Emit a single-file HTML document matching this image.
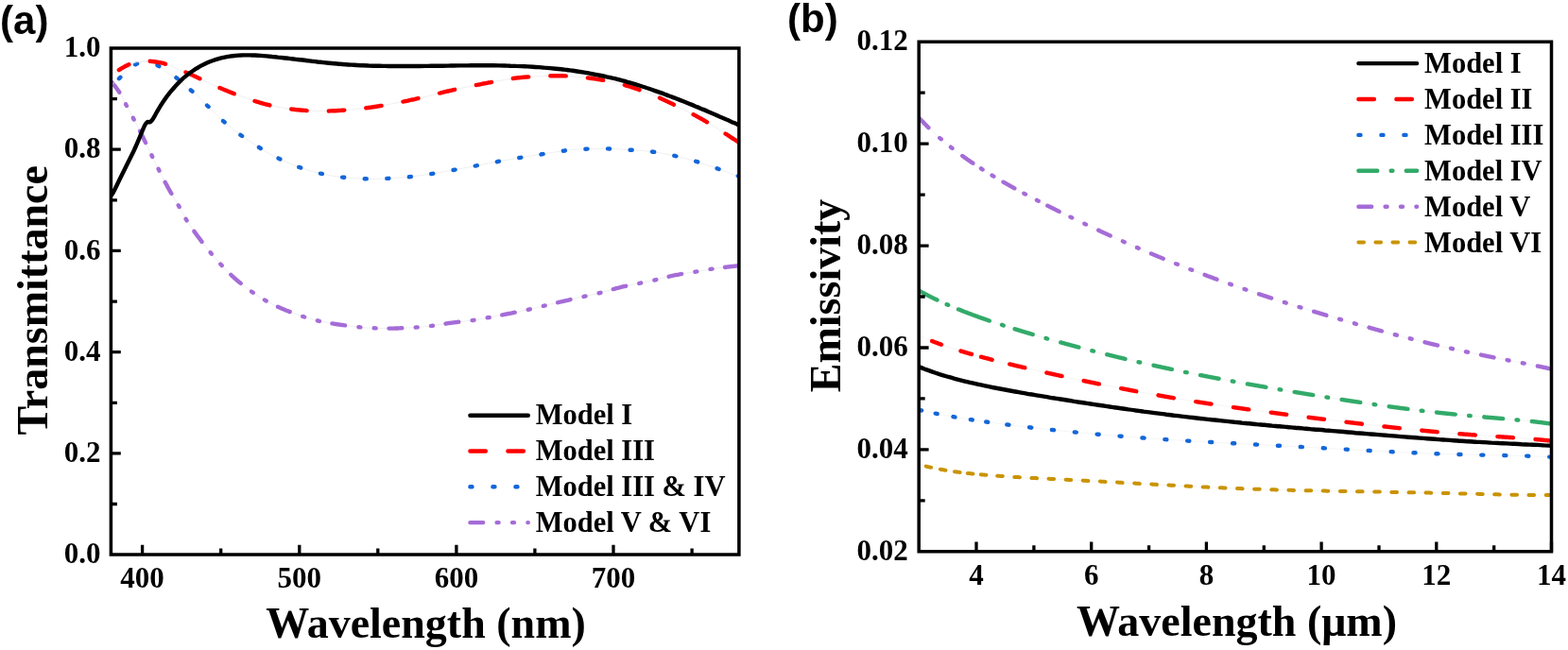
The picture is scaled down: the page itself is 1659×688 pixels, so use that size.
<!DOCTYPE html>
<html><head><meta charset="utf-8"><title>Transmittance and Emissivity</title>
<style>html,body{margin:0;padding:0;background:#fff;} body{width:1659px;height:688px;overflow:hidden;} svg{display:block}</style>
</head><body>
<svg width="1659" height="688" viewBox="0 0 1659 688">
<rect width="1659" height="688" fill="#fff"/>
<defs>
<clipPath id="ca"><rect x="117.4" y="51.0" width="664.5" height="536.1"/></clipPath>
<clipPath id="cb"><rect x="972.2" y="44.3" width="669.3" height="539.5"/></clipPath>
</defs>
<g clip-path="url(#ca)">
<path d="M115.5,85.5 C116.1,85.9 117.1,85.7 119.1,88.0 C121.1,90.3 124.8,95.2 127.3,99.2 C129.8,103.2 131.6,107.6 133.9,111.9 C136.2,116.2 138.7,120.8 141.0,125.2 C143.3,129.6 145.5,133.7 147.7,138.1 C149.9,142.5 151.7,146.1 154.3,151.5 C156.9,156.9 160.2,163.9 163.5,170.5 C166.8,177.1 170.8,185.4 173.9,191.3 C177.0,197.2 179.2,201.1 181.8,205.7 C184.4,210.3 187.0,214.2 189.6,218.8 C192.2,223.4 194.2,228.0 197.5,233.2 C200.8,238.4 204.9,244.3 209.3,250.2 C213.7,256.1 219.6,263.5 223.7,268.5 C227.8,273.5 230.0,275.9 234.1,280.3 C238.2,284.7 243.1,289.9 248.5,294.7 C253.9,299.5 261.6,305.3 266.8,309.1 C272.0,312.9 274.7,314.6 279.9,317.5 C285.1,320.4 291.6,323.8 298.2,326.6 C304.8,329.4 313.1,332.4 319.2,334.5 C325.3,336.6 328.8,337.8 334.9,339.2 C341.0,340.6 348.4,341.9 355.8,343.1 C363.2,344.3 372.8,345.5 379.4,346.2 C385.9,346.9 389.0,347.1 395.1,347.3 C401.2,347.5 408.6,347.7 416.0,347.6 C423.4,347.5 433.0,346.9 439.6,346.5 C446.2,346.1 449.3,345.8 455.6,345.0 C461.9,344.2 469.9,342.7 477.4,341.7 C484.8,340.7 493.9,339.9 500.3,339.0 C506.7,338.1 509.7,337.4 515.9,336.3 C522.1,335.2 530.4,333.6 537.7,332.1 C545.0,330.7 553.4,329.0 559.6,327.6 C565.9,326.2 569.0,325.3 575.2,323.8 C581.4,322.3 589.7,320.3 597.0,318.6 C604.3,316.9 612.6,315.0 618.8,313.6 C625.0,312.2 628.1,311.7 634.4,310.1 C640.6,308.5 649.0,305.9 656.3,304.1 C663.6,302.3 671.9,300.8 678.1,299.5 C684.3,298.2 687.6,297.6 693.7,296.2 C699.8,294.8 707.2,292.7 714.5,291.2 C721.8,289.7 731.0,288.5 737.4,287.4 C743.8,286.3 747.0,285.6 752.9,284.7 C758.8,283.8 767.5,282.8 772.7,282.2 C777.9,281.6 782.1,281.2 784.0,281.0" fill="none" stroke="#ebebeb" stroke-width="0.8"/>
<path d="M117.8,86.7 117.9,86.8 118.1,87.0 118.4,87.2 118.6,87.5 118.9,87.8 119.2,88.1 119.5,88.5 119.9,88.9 120.2,89.3 120.6,89.8 121.0,90.3 121.4,90.9 121.8,91.4 122.3,92.0 122.7,92.6 123.2,93.2 123.6,93.8 124.1,94.4 124.5,95.0 125.0,95.7 125.4,96.3 125.8,96.9 126.3,97.6 126.3,97.6M133.1,110.3 133.1,110.4 133.4,111.0 133.8,111.7 134.0,112.0M140.8,124.7 140.8,124.8 141.1,125.4 141.5,126.1 141.7,126.5M148.0,138.7 148.0,138.8 148.4,139.4 148.7,140.0 149.0,140.7 149.3,141.3 149.6,141.9 149.9,142.5 150.2,143.2 150.5,143.8 150.8,144.4 151.2,145.1 151.5,145.7 151.8,146.4 152.1,147.1 152.5,147.7 152.8,148.5 153.2,149.2 153.5,149.9 153.9,150.7 154.1,151.1M160.4,164.1 160.4,164.2 160.9,165.2 161.2,165.9M167.6,178.8 167.7,179.0 168.2,180.1 168.5,180.6M174.7,192.9 174.8,193.0 175.2,193.8 175.6,194.6 176.1,195.4 176.5,196.1 176.9,196.9 177.2,197.6 177.6,198.3 178.0,199.0 178.4,199.7 178.8,200.3 179.1,201.0 179.5,201.7 179.9,202.3 180.3,203.0 180.6,203.7 181.0,204.3 181.4,204.9M188.7,217.3 188.8,217.4 189.2,218.1 189.6,218.8 189.7,219.0M196.6,231.7 196.7,231.9 197.2,232.7 197.6,233.4M205.4,244.8 205.4,244.9 206.1,245.8 206.7,246.7 207.4,247.6 208.0,248.4 208.6,249.3 209.3,250.2 210.0,251.1 210.7,252.0 211.4,252.9 212.1,253.9 212.8,254.8 213.6,255.8 213.6,255.9M222.6,267.1 222.6,267.2 223.3,268.0 223.8,268.7M233.3,279.5 233.5,279.7 234.1,280.3 234.7,281.0M244.3,290.8 244.5,291.0 245.3,291.8 246.1,292.5 246.9,293.2 247.7,294.0 248.5,294.7 249.3,295.4 250.2,296.2 251.1,296.9 252.0,297.7 252.9,298.4 253.9,299.2 254.7,299.9M266.1,308.6 266.3,308.7 267.1,309.3 267.8,309.8M279.9,317.5 280.2,317.6 281.0,318.1 281.7,318.5M293.9,324.7 294.0,324.7 294.9,325.1 295.9,325.6 296.9,326.0 297.9,326.5 298.9,326.9 299.9,327.3 300.9,327.7 302.0,328.2 303.0,328.6 304.1,329.0 305.2,329.4 306.3,329.9 306.7,330.0M320.2,334.9 320.4,334.9 321.2,335.2 322.1,335.5 322.1,335.5M336.0,339.4 336.1,339.5 337.1,339.7 337.9,339.9M351.4,342.4 351.7,342.4 352.8,342.6 353.9,342.8 355.1,343.0 356.2,343.2 357.3,343.3 358.5,343.5 359.7,343.7 360.9,343.9 362.1,344.0 363.3,344.2 364.6,344.4 365.1,344.4M379.4,346.2 379.4,346.2 380.4,346.3 381.3,346.4 381.4,346.4M395.7,347.3 396.0,347.3 397.0,347.4 397.7,347.4M411.5,347.6 411.6,347.6 412.7,347.6 413.8,347.6 414.9,347.6 416.0,347.6 417.1,347.6 418.3,347.5 419.5,347.5 420.7,347.5 421.9,347.4 423.1,347.4 424.4,347.3 425.3,347.3M439.7,346.5 439.9,346.5 440.9,346.4 441.7,346.4M456.0,344.9 456.2,344.9 457.2,344.8 458.0,344.7M471.6,342.6 471.7,342.5 472.9,342.4 474.0,342.2 475.1,342.0 476.3,341.9 477.4,341.7 478.5,341.6 479.7,341.4 480.8,341.3 482.0,341.1 483.2,341.0 484.4,340.8 485.3,340.8M499.6,339.1 499.6,339.1 500.6,339.0 501.5,338.8M515.7,336.3 515.9,336.3 516.8,336.1 517.7,336.0M531.2,333.4 531.3,333.4 532.5,333.1 533.6,332.9 534.7,332.7 535.9,332.5 537.0,332.2 538.1,332.0 539.2,331.8 540.3,331.6 541.4,331.4 542.6,331.1 543.7,330.9 544.7,330.7M558.8,327.8 559.0,327.7 559.9,327.5 560.8,327.3M574.8,323.9 574.9,323.9 575.8,323.6 576.7,323.4M590.1,320.2 590.3,320.2 591.4,319.9 592.5,319.6 593.7,319.4 594.8,319.1 595.9,318.9 597.0,318.6 598.1,318.3 599.2,318.1 600.3,317.8 601.5,317.6 602.6,317.3 603.5,317.1M617.6,313.9 617.8,313.8 618.8,313.6 619.5,313.4M633.6,310.3 633.8,310.3 634.7,310.0 635.5,309.8M648.8,306.1 648.8,306.1 649.9,305.8 651.1,305.5 652.2,305.1 653.3,304.8 654.5,304.6 655.6,304.3 656.7,304.0 657.8,303.7 658.9,303.5 660.0,303.2 661.1,303.0 662.2,302.8M676.3,299.9 676.5,299.8 677.5,299.6 678.2,299.5M692.3,296.5 692.5,296.5 693.4,296.3 694.3,296.1M707.6,292.7 707.9,292.7 709.0,292.4 710.1,292.2 711.2,291.9 712.3,291.7 713.4,291.4 714.5,291.2 715.6,291.0 716.7,290.8 717.9,290.6 719.1,290.3 720.3,290.1 721.1,290.0M735.4,287.7 735.4,287.7 736.4,287.6 737.3,287.4M751.5,284.9 751.8,284.9 752.6,284.7 753.5,284.6M767.1,282.9 767.2,282.8 768.2,282.7 769.2,282.6 770.1,282.5 771.0,282.4 771.9,282.3 772.7,282.2 773.5,282.1 774.2,282.0 775.0,281.9 775.7,281.9 776.4,281.8 777.1,281.7 777.7,281.6 778.4,281.6 779.0,281.5 779.6,281.4 780.2,281.4 780.7,281.3 780.9,281.3" fill="none" stroke="#a56cd7" stroke-width="4.4" stroke-linecap="round" stroke-linejoin="round"/>
<path d="M115.5,92.0 C115.8,91.8 115.6,92.1 117.5,90.5 C119.4,88.9 123.9,85.2 126.8,82.4 C129.7,79.6 131.9,75.9 134.8,73.5 C137.7,71.1 140.8,69.3 144.1,67.9 C147.4,66.5 150.6,65.0 154.5,65.3 C158.4,65.6 163.9,67.8 167.6,69.7 C171.3,71.6 173.5,74.4 176.8,76.6 C180.1,78.8 184.2,80.5 187.5,83.0 C190.8,85.5 193.6,89.4 196.5,91.9 C199.4,94.4 201.1,94.5 205.2,98.1 C209.3,101.7 215.8,108.4 221.3,113.7 C226.9,119.0 232.8,125.2 238.5,130.2 C244.2,135.2 249.8,139.5 255.8,143.8 C261.8,148.1 269.9,153.2 274.4,156.2 C278.9,159.1 279.9,159.7 283.0,161.5 C286.1,163.3 287.8,164.4 292.9,166.8 C298.0,169.2 306.7,173.3 313.9,176.0 C321.1,178.7 328.7,181.1 336.1,182.9 C343.5,184.8 350.8,186.1 358.4,187.1 C366.0,188.1 374.0,188.8 381.8,189.1 C389.6,189.4 397.5,189.3 405.3,189.1 C413.1,188.8 421.4,188.3 428.8,187.6 C436.2,186.9 441.9,186.2 450.0,185.0 C458.1,183.8 468.8,181.9 477.2,180.4 C485.6,178.9 492.9,177.5 500.7,176.0 C508.5,174.5 516.3,172.9 524.1,171.5 C531.9,170.1 539.8,168.6 547.6,167.3 C555.4,166.0 563.3,164.8 571.1,163.6 C578.9,162.4 587.8,160.8 594.6,159.9 C601.4,159.0 604.1,158.4 612.0,158.0 C619.9,157.6 632.6,157.3 641.7,157.4 C650.8,157.5 658.4,158.2 666.4,158.7 C674.4,159.2 682.0,159.6 689.8,160.6 C697.6,161.6 705.5,163.1 713.3,164.8 C721.1,166.5 729.2,168.7 736.8,171.0 C744.4,173.3 751.1,175.7 759.0,178.4 C766.9,181.2 779.8,186.0 784.0,187.5" fill="none" stroke="#ebebeb" stroke-width="0.8"/>
<path d="M201.8,95.4 201.9,95.5 202.4,95.8 202.8,96.2 203.3,96.6 203.5,96.7M219.0,111.5 219.3,111.8 220.2,112.6 220.6,113.0M236.0,128.0 236.2,128.1 237.1,128.9 237.6,129.4M254.4,142.8 254.6,142.9 255.5,143.6 256.1,144.0M274.0,155.9 274.2,156.1 274.8,156.5 275.5,156.9 275.8,157.1M294.5,167.6 294.5,167.6 295.4,168.0 296.4,168.4 296.4,168.5M316.2,176.9 316.4,176.9 317.5,177.3 318.2,177.6M338.9,183.6 339.1,183.6 340.2,183.9 340.9,184.0M362.1,187.6 362.2,187.6 363.4,187.7 364.2,187.8M385.7,189.2 385.7,189.2 386.9,189.3 387.8,189.3M409.3,188.9 409.6,188.9 410.8,188.9 411.4,188.8M432.8,187.2 433.1,187.2 434.1,187.1 434.9,187.0M456.2,184.0 456.5,184.0 457.8,183.8 458.3,183.7M479.5,180.0 479.7,180.0 480.9,179.7 481.6,179.6M502.7,175.6 503.0,175.6 504.2,175.3 504.8,175.2M525.9,171.2 526.1,171.1 527.2,170.9 528.0,170.8M549.2,167.0 549.6,167.0 550.7,166.8 551.3,166.7M572.5,163.4 572.7,163.3 573.9,163.2 574.6,163.0M595.9,159.7 595.9,159.7 596.8,159.6 597.7,159.5 597.9,159.4M619.4,157.7 619.7,157.7 621.2,157.6 621.5,157.6M643.0,157.4 643.0,157.4 644.4,157.5 645.1,157.5M666.6,158.7 666.8,158.7 668.0,158.8 668.7,158.8M690.1,160.6 690.2,160.7 691.4,160.8 692.2,160.9M713.3,164.8 713.7,164.9 714.9,165.2 715.4,165.3M736.2,170.8 736.4,170.9 737.6,171.2 738.2,171.4M758.6,178.3 758.6,178.3 759.8,178.7 760.6,179.0M780.8,186.3 780.9,186.4 781.9,186.7 782.8,187.1M125.9,83.2 126.0,83.1 126.5,82.7 126.9,82.3 127.4,81.8 127.4,81.8M143.1,68.3 143.3,68.3 143.8,68.0 144.3,67.8 144.8,67.6 145.1,67.5M166.5,69.1 166.6,69.2 167.2,69.5 167.8,69.8 168.3,70.1 168.3,70.1M186.4,82.2 186.5,82.3 187.0,82.6 187.5,83.0 188.0,83.4 188.1,83.5" fill="none" stroke="#1366d9" stroke-width="4.4" stroke-linecap="round" stroke-linejoin="round"/>
<path d="M115.5,81.0 C115.8,80.8 116.2,80.4 117.5,79.5 C118.8,78.6 121.5,76.9 123.6,75.6 C125.6,74.3 127.5,73.0 129.8,71.7 C132.1,70.4 134.3,69.1 137.2,68.0 C140.1,66.9 144.4,65.9 147.1,65.3 C149.8,64.7 151.3,64.7 153.5,64.6 C155.7,64.5 157.6,64.7 160.0,64.9 C162.4,65.1 165.3,65.5 167.8,66.0 C170.3,66.5 171.4,66.4 175.0,67.7 C178.6,69.0 184.7,71.6 189.5,73.6 C194.3,75.6 198.5,77.2 203.8,79.6 C209.1,82.0 215.4,85.4 221.5,88.2 C227.6,91.0 234.3,93.8 240.5,96.3 C246.7,98.8 252.3,101.0 258.5,103.2 C264.6,105.4 271.1,107.6 277.4,109.3 C283.6,111.0 289.6,112.4 296.0,113.6 C302.4,114.8 309.0,115.6 315.5,116.3 C322.0,117.0 328.4,117.3 335.0,117.5 C341.6,117.7 348.2,117.5 354.8,117.2 C361.4,116.9 367.9,116.4 374.5,115.7 C381.1,115.0 388.0,114.3 394.7,113.3 C401.4,112.3 407.9,111.1 414.5,109.9 C421.1,108.7 427.6,107.4 434.1,106.0 C440.6,104.6 447.1,103.0 453.5,101.5 C459.9,100.0 466.2,98.3 472.6,96.8 C479.0,95.3 485.6,93.8 492.0,92.4 C498.4,91.0 505.0,89.8 511.3,88.6 C517.6,87.4 523.9,86.1 530.0,85.1 C536.1,84.0 541.7,83.0 548.2,82.3 C554.7,81.6 561.9,81.1 569.0,80.8 C576.1,80.5 583.7,80.1 590.6,80.2 C597.5,80.3 603.9,80.6 610.5,81.2 C617.1,81.8 623.9,82.6 630.5,83.6 C637.1,84.6 643.6,85.8 650.0,87.3 C656.4,88.8 662.7,90.5 669.0,92.5 C675.3,94.5 681.8,97.0 688.0,99.5 C694.2,102.0 700.2,104.7 706.2,107.5 C712.2,110.3 718.0,113.3 724.0,116.3 C730.0,119.3 736.2,122.5 741.9,125.7 C747.6,128.9 752.6,132.2 758.0,135.5 C763.4,138.8 769.7,142.9 774.0,145.7 C778.3,148.4 782.3,150.9 784.0,152.0" fill="none" stroke="#ebebeb" stroke-width="0.8"/>
<path d="M158.7,64.8 158.8,64.8 159.2,64.8 159.5,64.9 159.9,64.9 160.2,64.9 160.6,65.0 161.0,65.0 161.4,65.0 161.7,65.1 162.1,65.1 162.5,65.2 162.9,65.2 163.3,65.3 163.7,65.3 164.1,65.4 164.5,65.5 164.9,65.5 165.3,65.6 165.7,65.6 166.1,65.7 166.5,65.8 166.9,65.8 167.3,65.9 167.7,66.0 168.0,66.0 168.4,66.1 168.7,66.2 169.1,66.2 169.4,66.3 169.7,66.3 170.0,66.4 170.3,66.4 170.6,66.5 170.9,66.5 171.2,66.6 171.5,66.7 171.8,66.7 172.2,66.8 172.6,66.9 173.0,67.0 173.4,67.2 173.8,67.3 174.3,67.5 174.8,67.6 175.0,67.7M196.4,76.4 196.5,76.4 197.1,76.7 197.8,77.0 198.6,77.3 199.3,77.6 200.0,77.9 200.7,78.2 201.5,78.6 202.2,78.9 203.0,79.2 203.8,79.6 204.6,80.0 205.4,80.4 206.3,80.8 207.1,81.2 208.0,81.6 208.8,82.0 209.7,82.4 210.6,82.9 211.4,83.3M232.4,93.0 232.6,93.0 233.6,93.4 234.5,93.8 235.5,94.2 236.4,94.6 237.4,95.0 238.3,95.4 239.3,95.8 240.2,96.2 241.1,96.5 242.0,96.9 242.9,97.3 243.8,97.6 244.7,98.0 245.6,98.4 246.5,98.7 247.4,99.1 247.7,99.2M269.5,106.9 269.8,107.0 270.8,107.3 271.7,107.6 272.7,107.9 273.6,108.2 274.6,108.5 275.5,108.8 276.5,109.0 277.4,109.3 278.3,109.6 279.3,109.8 280.2,110.1 281.1,110.3 282.0,110.5 283.0,110.8 283.9,111.0 284.8,111.2 285.4,111.4M308.2,115.5 308.3,115.5 309.3,115.6 310.3,115.7 311.3,115.8 312.2,116.0 313.2,116.1 314.2,116.2 315.2,116.3 316.1,116.4 317.1,116.5 318.1,116.5 319.1,116.6 320.0,116.7 321.0,116.8 322.0,116.9 323.0,116.9 323.9,117.0 324.6,117.1M347.8,117.5 347.9,117.5 348.9,117.4 349.9,117.4 350.8,117.4 351.8,117.3 352.8,117.3 353.8,117.2 354.8,117.2 355.8,117.2 356.8,117.1 357.8,117.0 358.7,117.0 359.7,116.9 360.7,116.9 361.7,116.8 362.7,116.7 363.6,116.7 364.3,116.6M387.3,114.3 387.6,114.2 388.7,114.1 389.7,114.0 390.7,113.9 391.7,113.7 392.7,113.6 393.7,113.4 394.7,113.3 395.7,113.2 396.7,113.0 397.7,112.8 398.7,112.7 399.7,112.5 400.7,112.4 401.7,112.2 402.7,112.0 403.6,111.9M426.4,107.6 426.6,107.6 427.6,107.4 428.6,107.2 429.5,107.0 430.5,106.8 431.5,106.6 432.5,106.3 433.4,106.1 434.4,105.9 435.4,105.7 436.4,105.5 437.3,105.3 438.3,105.1 439.3,104.8 440.3,104.6 441.2,104.4 442.2,104.2 442.5,104.1M465.0,98.6 465.3,98.6 466.2,98.4 467.2,98.1 468.1,97.9 469.1,97.6 470.0,97.4 471.0,97.2 472.0,97.0 472.9,96.7 473.9,96.5 474.9,96.3 475.8,96.0 476.8,95.8 477.8,95.6 478.7,95.4 479.7,95.1 480.7,94.9 481.1,94.8M503.8,90.0 503.9,90.0 504.9,89.8 505.9,89.6 506.8,89.5 507.8,89.3 508.8,89.1 509.7,88.9 510.7,88.7 511.6,88.5 512.6,88.4 513.5,88.2 514.5,88.0 515.4,87.8 516.3,87.6 517.3,87.4 518.2,87.3 519.2,87.1 520.0,86.9M542.8,83.0 542.9,83.0 543.8,82.8 544.7,82.7 545.6,82.6 546.6,82.5 547.6,82.4 548.5,82.3 549.5,82.2 550.5,82.1 551.5,82.0 552.5,81.9 553.5,81.8 554.6,81.7 555.6,81.6 556.6,81.5 557.7,81.5 558.7,81.4 559.2,81.4M582.3,80.3 582.4,80.3 583.5,80.2 584.6,80.2 585.7,80.2 586.7,80.2 587.8,80.2 588.9,80.2 589.9,80.2 590.9,80.2 592.0,80.2 593.0,80.2 594.0,80.3 595.0,80.3 596.0,80.3 597.0,80.4 598.0,80.4 598.8,80.4M621.9,82.4 622.2,82.4 623.2,82.6 624.2,82.7 625.2,82.8 626.2,83.0 627.2,83.1 628.2,83.3 629.2,83.4 630.2,83.5 631.2,83.7 632.1,83.9 633.1,84.0 634.1,84.2 635.1,84.3 636.1,84.5 637.1,84.7 638.0,84.9 638.2,84.9M660.8,90.0 660.8,90.0 661.7,90.3 662.7,90.6 663.6,90.9 664.6,91.1 665.5,91.4 666.5,91.7 667.4,92.0 668.4,92.3 669.3,92.6 670.3,92.9 671.2,93.2 672.2,93.6 673.1,93.9 674.1,94.2 675.0,94.5 676.0,94.9 676.5,95.1M698.0,103.7 698.1,103.8 699.0,104.2 699.9,104.6 700.8,105.0 701.7,105.4 702.6,105.8 703.5,106.2 704.4,106.7 705.3,107.1 706.2,107.5 707.1,107.9 708.0,108.3 708.9,108.8 709.8,109.2 710.7,109.6 711.6,110.1 712.5,110.5 712.9,110.7M733.6,121.2 733.7,121.3 734.6,121.7 735.5,122.2 736.4,122.7 737.3,123.1 738.1,123.6 739.0,124.1 739.9,124.6 740.8,125.1 741.6,125.5 742.5,126.0 743.3,126.5 744.1,127.0 745.0,127.5 745.8,128.0 746.6,128.4 747.4,128.9 748.0,129.3M767.6,141.6 767.8,141.7 768.6,142.2 769.4,142.7 770.2,143.2 770.9,143.7 771.7,144.2 772.4,144.7 773.1,145.1 773.8,145.6 774.4,146.0 775.1,146.4 775.7,146.8 776.3,147.2 777.0,147.6 777.6,147.9 778.1,148.3 778.7,148.7 779.3,149.0 779.8,149.4 780.3,149.7 780.8,150.0 781.3,150.3 781.5,150.4M125.9,74.1 125.9,74.1 126.2,73.9 126.5,73.7 126.8,73.5 127.1,73.3 127.4,73.1 127.7,72.9 128.1,72.7 128.4,72.5 128.7,72.3 129.0,72.1 129.4,72.0 129.7,71.8 130.0,71.6 130.4,71.4 130.7,71.2 131.0,71.0 131.4,70.8 131.7,70.6 132.1,70.4 132.4,70.2 132.8,70.0 133.1,69.8 133.5,69.6 133.9,69.5 134.3,69.3 134.6,69.1 135.0,68.9 135.4,68.7 135.8,68.6 136.2,68.4 136.4,68.3" fill="none" stroke="#ff0000" stroke-width="4.4" stroke-linecap="round" stroke-linejoin="round"/>
<path d="M115.5,209.0 C116.1,208.3 117.1,208.4 119.1,205.0 C121.1,201.6 124.0,195.2 127.4,188.3 C130.8,181.4 137.1,168.9 139.7,163.6 C142.3,158.3 141.6,159.7 143.0,156.5 C144.4,153.3 146.7,148.0 148.1,144.6 C149.5,141.2 150.7,138.0 151.7,135.8 C152.7,133.6 153.2,132.5 153.9,131.4 C154.6,130.3 155.4,129.4 156.1,129.1 C156.8,128.8 157.6,129.5 158.3,129.3 C159.0,129.1 159.7,128.6 160.4,127.8 C161.1,127.0 161.6,126.3 162.6,124.6 C163.6,122.9 164.8,120.5 166.5,117.6 C168.2,114.7 170.8,110.4 173.1,107.1 C175.3,103.8 177.8,100.4 180.0,97.7 C182.2,95.0 184.0,92.9 186.0,90.7 C188.0,88.5 190.0,86.5 192.0,84.6 C194.0,82.7 196.0,81.0 198.0,79.4 C200.0,77.8 202.0,76.3 204.0,75.0 C206.0,73.6 208.0,72.3 210.0,71.2 C212.0,70.0 214.0,68.9 216.0,68.0 C218.0,67.0 220.0,66.1 222.0,65.3 C224.0,64.5 226.0,63.7 228.0,63.1 C230.0,62.5 232.0,61.9 234.0,61.4 C236.0,60.9 238.0,60.5 240.0,60.1 C242.0,59.7 244.0,59.4 246.0,59.2 C248.0,59.0 250.0,58.8 252.0,58.6 C254.0,58.5 256.0,58.4 258.0,58.4 C260.0,58.3 262.0,58.3 264.0,58.4 C266.0,58.4 268.0,58.5 270.0,58.5 C272.0,58.6 274.0,58.8 276.0,58.9 C278.0,59.0 280.0,59.2 282.0,59.4 C284.0,59.6 286.0,59.8 288.0,60.0 C290.0,60.1 292.0,60.3 294.0,60.6 C296.0,60.8 298.0,61.0 300.0,61.2 C302.0,61.4 304.0,61.7 306.0,61.9 C308.0,62.1 310.0,62.4 312.0,62.6 C314.0,62.8 316.0,63.1 318.0,63.3 C320.0,63.6 322.0,63.8 324.0,64.0 C326.0,64.3 328.0,64.5 330.0,64.8 C332.0,65.0 334.0,65.2 336.0,65.5 C338.0,65.7 340.0,65.9 342.0,66.1 C344.0,66.3 346.0,66.5 348.0,66.7 C350.0,66.9 352.0,67.1 354.0,67.3 C356.0,67.5 358.0,67.6 360.0,67.8 C362.0,68.0 364.0,68.1 366.0,68.2 C368.0,68.4 370.0,68.5 372.0,68.6 C374.0,68.7 376.0,68.9 378.0,69.0 C380.0,69.1 382.0,69.2 384.0,69.2 C386.0,69.3 388.0,69.4 390.0,69.5 C392.0,69.5 394.0,69.6 396.0,69.7 C398.0,69.7 400.0,69.8 402.0,69.8 C404.0,69.8 406.0,69.9 408.0,69.9 C410.0,69.9 412.0,70.0 414.0,70.0 C416.0,70.0 418.0,70.0 420.0,70.0 C422.0,70.0 424.0,70.0 426.0,70.0 C428.0,70.0 430.0,70.0 432.0,70.0 C434.0,70.0 436.0,70.0 438.0,70.0 C440.0,70.0 442.0,70.0 444.0,70.0 C446.0,69.9 448.0,69.9 450.0,69.9 C452.0,69.9 454.0,69.8 456.0,69.8 C458.0,69.8 460.0,69.8 462.0,69.7 C464.0,69.7 466.0,69.7 468.0,69.7 C470.0,69.6 472.0,69.6 474.0,69.6 C476.0,69.6 478.0,69.5 480.0,69.5 C482.0,69.5 484.0,69.5 486.0,69.4 C488.0,69.4 490.0,69.4 492.0,69.4 C494.0,69.4 496.0,69.3 498.0,69.3 C500.0,69.3 502.0,69.3 504.0,69.3 C506.0,69.3 508.0,69.3 510.0,69.3 C512.0,69.3 514.0,69.3 516.0,69.3 C518.0,69.3 520.0,69.3 522.0,69.3 C524.0,69.4 526.0,69.4 528.0,69.4 C530.0,69.5 532.0,69.5 534.0,69.5 C536.0,69.6 538.0,69.6 540.0,69.7 C542.0,69.7 544.0,69.8 546.0,69.9 C548.0,69.9 550.0,70.0 552.0,70.1 C554.0,70.2 556.0,70.3 558.0,70.4 C560.0,70.5 562.0,70.6 564.0,70.7 C566.0,70.9 568.0,71.0 570.0,71.1 C572.0,71.3 574.0,71.4 576.0,71.6 C578.0,71.7 580.0,71.9 582.0,72.1 C584.0,72.3 586.0,72.5 588.0,72.7 C590.0,72.9 592.0,73.1 594.0,73.3 C596.0,73.5 598.0,73.8 600.0,74.0 C602.0,74.3 604.0,74.5 606.0,74.8 C608.0,75.1 610.0,75.4 612.0,75.7 C614.0,76.0 616.0,76.3 618.0,76.6 C620.0,77.0 622.0,77.3 624.0,77.7 C626.0,78.0 628.0,78.4 630.0,78.8 C632.0,79.2 634.0,79.6 636.0,80.0 C638.0,80.4 640.0,80.8 642.0,81.3 C644.0,81.7 646.0,82.2 648.0,82.7 C650.0,83.1 652.0,83.6 654.0,84.1 C656.0,84.6 658.0,85.2 660.0,85.7 C662.0,86.3 664.0,86.8 666.0,87.4 C668.0,88.0 670.0,88.6 672.0,89.2 C674.0,89.8 676.0,90.4 678.0,91.0 C680.0,91.7 682.0,92.3 684.0,93.0 C686.0,93.6 688.0,94.3 690.0,95.0 C692.0,95.7 694.0,96.4 696.0,97.1 C698.0,97.8 700.0,98.5 702.0,99.2 C704.0,100.0 706.0,100.7 708.0,101.5 C710.0,102.2 712.0,103.0 714.0,103.7 C716.0,104.5 718.0,105.3 720.0,106.1 C722.0,106.9 724.0,107.7 726.0,108.5 C728.0,109.3 730.0,110.1 732.0,110.9 C734.0,111.7 736.0,112.6 738.0,113.4 C740.0,114.2 742.0,115.1 744.0,115.9 C746.0,116.7 748.0,117.6 750.0,118.5 C752.0,119.3 754.0,120.2 756.0,121.0 C758.0,121.9 760.0,122.8 762.0,123.7 C764.0,124.5 766.0,125.4 768.0,126.3 C770.0,127.1 772.0,128.0 774.0,128.9 C776.0,129.8 778.3,130.8 780.0,131.6 C781.7,132.3 783.3,133.0 784.0,133.3" fill="none" stroke="#000" stroke-width="4.4" stroke-linecap="round" stroke-linejoin="round"/>

</g>
<g clip-path="url(#cb)">
<path d="M972.2,491.7 C973.5,492.0 977.5,493.1 980.2,493.7 C982.9,494.4 985.5,494.9 988.2,495.5 C990.9,496.0 993.5,496.5 996.2,497.0 C998.9,497.5 1001.5,497.9 1004.2,498.3 C1006.9,498.7 1009.5,499.1 1012.2,499.5 C1014.9,499.9 1017.5,500.2 1020.2,500.5 C1022.9,500.8 1025.5,501.1 1028.2,501.4 C1030.9,501.7 1033.5,501.9 1036.2,502.2 C1038.9,502.4 1041.5,502.6 1044.2,502.9 C1046.9,503.1 1049.5,503.3 1052.2,503.5 C1054.9,503.7 1057.5,503.9 1060.2,504.0 C1062.9,504.2 1065.5,504.4 1068.2,504.6 C1070.9,504.7 1073.5,504.9 1076.2,505.0 C1078.9,505.2 1081.5,505.3 1084.2,505.5 C1086.9,505.6 1089.5,505.8 1092.2,505.9 C1094.9,506.1 1097.5,506.2 1100.2,506.3 C1102.9,506.5 1105.5,506.6 1108.2,506.7 C1110.9,506.9 1113.5,507.0 1116.2,507.1 C1118.9,507.3 1121.5,507.4 1124.2,507.5 C1126.9,507.7 1129.5,507.8 1132.2,507.9 C1134.9,508.1 1137.5,508.2 1140.2,508.4 C1142.9,508.5 1145.5,508.6 1148.2,508.8 C1150.9,508.9 1153.5,509.1 1156.2,509.2 C1158.9,509.3 1161.5,509.5 1164.2,509.6 C1166.9,509.8 1169.5,509.9 1172.2,510.0 C1174.9,510.2 1177.5,510.3 1180.2,510.5 C1182.9,510.6 1185.5,510.8 1188.2,510.9 C1190.9,511.1 1193.5,511.2 1196.2,511.4 C1198.9,511.5 1201.5,511.6 1204.2,511.8 C1206.9,511.9 1209.5,512.1 1212.2,512.2 C1214.9,512.4 1217.5,512.5 1220.2,512.7 C1222.9,512.8 1225.5,513.0 1228.2,513.1 C1230.9,513.2 1233.5,513.4 1236.2,513.5 C1238.9,513.7 1241.5,513.8 1244.2,514.0 C1246.9,514.1 1249.5,514.2 1252.2,514.4 C1254.9,514.5 1257.5,514.6 1260.2,514.8 C1262.9,514.9 1265.5,515.0 1268.2,515.2 C1270.9,515.3 1273.5,515.4 1276.2,515.6 C1278.9,515.7 1281.5,515.8 1284.2,515.9 C1286.9,516.0 1289.5,516.2 1292.2,516.3 C1294.9,516.4 1297.5,516.5 1300.2,516.6 C1302.9,516.7 1305.5,516.8 1308.2,517.0 C1310.9,517.1 1313.5,517.1 1316.2,517.2 C1318.9,517.4 1321.5,517.5 1324.2,517.5 C1326.9,517.6 1329.5,517.7 1332.2,517.8 C1334.9,517.9 1337.5,518.0 1340.2,518.1 C1342.9,518.2 1345.5,518.3 1348.2,518.3 C1350.9,518.4 1353.5,518.5 1356.2,518.6 C1358.9,518.6 1361.5,518.7 1364.2,518.8 C1366.9,518.9 1369.5,518.9 1372.2,519.0 C1374.9,519.0 1377.5,519.1 1380.2,519.2 C1382.9,519.2 1385.5,519.3 1388.2,519.3 C1390.9,519.4 1393.5,519.5 1396.2,519.5 C1398.9,519.6 1401.5,519.6 1404.2,519.7 C1406.9,519.7 1409.5,519.8 1412.2,519.8 C1414.9,519.9 1417.5,519.9 1420.2,520.0 C1422.9,520.0 1425.5,520.1 1428.2,520.1 C1430.9,520.1 1433.5,520.2 1436.2,520.2 C1438.9,520.3 1441.5,520.3 1444.2,520.4 C1446.9,520.4 1449.5,520.5 1452.2,520.5 C1454.9,520.6 1457.5,520.6 1460.2,520.6 C1462.9,520.7 1465.5,520.7 1468.2,520.8 C1470.9,520.8 1473.5,520.9 1476.2,520.9 C1478.9,521.0 1481.5,521.0 1484.2,521.1 C1486.9,521.1 1489.5,521.2 1492.2,521.2 C1494.9,521.3 1497.5,521.3 1500.2,521.4 C1502.9,521.4 1505.5,521.5 1508.2,521.5 C1510.9,521.6 1513.5,521.7 1516.2,521.7 C1518.9,521.8 1521.5,521.8 1524.2,521.9 C1526.9,522.0 1529.5,522.0 1532.2,522.1 C1534.9,522.1 1537.5,522.2 1540.2,522.3 C1542.9,522.3 1545.5,522.4 1548.2,522.5 C1550.9,522.5 1553.5,522.6 1556.2,522.6 C1558.9,522.7 1561.5,522.8 1564.2,522.9 C1566.9,522.9 1569.5,523.0 1572.2,523.0 C1574.9,523.1 1577.5,523.2 1580.2,523.2 C1582.9,523.3 1585.5,523.4 1588.2,523.4 C1590.9,523.5 1593.5,523.5 1596.2,523.6 C1598.9,523.7 1601.5,523.7 1604.2,523.8 C1606.9,523.8 1609.5,523.8 1612.2,523.9 C1614.9,523.9 1617.5,524.0 1620.2,524.0 C1622.9,524.0 1625.5,524.1 1628.2,524.1 C1630.9,524.1 1633.5,524.1 1636.2,524.1 C1638.9,524.1 1642.9,524.1 1644.2,524.1" fill="none" stroke="#f3f3f3" stroke-width="0.8"/>
<path d="M1073.3,504.9 1073.3,504.9 1073.7,504.9 1074.1,504.9 1074.5,504.9 1074.9,505.0 1075.3,505.0 1075.7,505.0 1076.1,505.0 1076.5,505.0 1076.9,505.1 1077.3,505.1 1077.7,505.1 1078.1,505.1 1078.5,505.2 1078.9,505.2M1091.4,505.9 1091.4,505.9 1091.8,505.9 1092.2,505.9 1092.6,505.9 1093.0,506.0 1093.4,506.0 1093.8,506.0 1094.2,506.0 1094.6,506.0 1095.0,506.1 1095.4,506.1 1095.8,506.1 1096.2,506.1 1096.6,506.1 1097.0,506.2M1109.5,506.8 1109.5,506.8 1109.9,506.8 1110.3,506.8 1110.7,506.9 1111.1,506.9 1111.5,506.9 1111.9,506.9 1112.3,506.9 1112.7,507.0 1113.1,507.0 1113.5,507.0 1113.9,507.0 1114.3,507.0 1114.7,507.1 1115.1,507.1M1127.7,507.7 1127.7,507.7 1128.1,507.7 1128.5,507.8 1128.9,507.8 1129.3,507.8 1129.7,507.8 1130.1,507.8 1130.5,507.9 1130.9,507.9 1131.3,507.9 1131.7,507.9 1132.1,507.9 1132.5,508.0 1132.9,508.0 1133.2,508.0M1145.8,508.6 1145.8,508.6 1146.2,508.7 1146.6,508.7 1147.0,508.7 1147.4,508.7 1147.8,508.7 1148.2,508.8 1148.6,508.8 1149.0,508.8 1149.4,508.8 1149.8,508.9 1150.2,508.9 1150.6,508.9 1151.0,508.9 1151.4,508.9M1163.9,509.6 1163.9,509.6 1164.3,509.6 1164.7,509.6 1165.1,509.7 1165.5,509.7 1165.9,509.7 1166.3,509.7 1166.7,509.7 1167.1,509.8 1167.5,509.8 1167.9,509.8 1168.3,509.8 1168.7,509.9 1169.1,509.9 1169.5,509.9M1182.0,510.6 1182.1,510.6 1182.5,510.6 1182.9,510.6 1183.3,510.6 1183.7,510.7 1184.1,510.7 1184.5,510.7 1184.9,510.7 1185.3,510.7 1185.7,510.8 1186.1,510.8 1186.5,510.8 1186.9,510.8 1187.3,510.9 1187.6,510.9M1200.2,511.6 1200.2,511.6 1200.6,511.6 1201.0,511.6 1201.4,511.6 1201.8,511.7 1202.2,511.7 1202.6,511.7 1203.0,511.7 1203.4,511.7 1203.8,511.8 1204.2,511.8 1204.6,511.8 1205.0,511.8 1205.4,511.9 1205.8,511.9M1218.3,512.6 1218.3,512.6 1218.7,512.6 1219.1,512.6 1219.5,512.6 1219.9,512.7 1220.3,512.7 1220.7,512.7 1221.1,512.7 1221.5,512.7 1221.9,512.8 1222.3,512.8 1222.7,512.8 1223.1,512.8 1223.5,512.8 1223.9,512.9M1236.4,513.5 1236.5,513.5 1236.9,513.6 1237.3,513.6 1237.7,513.6 1238.1,513.6 1238.5,513.7 1238.9,513.7 1239.3,513.7 1239.7,513.7 1240.1,513.7 1240.5,513.8 1240.9,513.8 1241.3,513.8 1241.7,513.8 1242.0,513.8M1254.6,514.5 1254.6,514.5 1255.0,514.5 1255.4,514.5 1255.8,514.6 1256.2,514.6 1256.6,514.6 1257.0,514.6 1257.4,514.6 1257.8,514.7 1258.2,514.7 1258.6,514.7 1259.0,514.7 1259.4,514.7 1259.8,514.8 1260.2,514.8M1272.7,515.4 1272.7,515.4 1273.1,515.4 1273.5,515.4 1273.9,515.5 1274.3,515.5 1274.7,515.5 1275.1,515.5 1275.5,515.5 1275.9,515.5 1276.3,515.6 1276.7,515.6 1277.1,515.6 1277.5,515.6 1277.9,515.6 1278.3,515.7M1290.8,516.2 1290.9,516.2 1291.3,516.2 1291.7,516.3 1292.1,516.3 1292.5,516.3 1292.9,516.3 1293.3,516.3 1293.7,516.3 1294.1,516.4 1294.5,516.4 1294.9,516.4 1295.3,516.4 1295.7,516.4 1296.1,516.4 1296.4,516.5M1309.0,517.0 1309.0,517.0 1309.4,517.0 1309.8,517.0 1310.2,517.0 1310.6,517.0 1311.0,517.1 1311.4,517.1 1311.8,517.1 1312.2,517.1 1312.6,517.1 1313.0,517.1 1313.4,517.1 1313.8,517.2 1314.2,517.2 1314.6,517.2M1327.1,517.7 1327.1,517.7 1327.5,517.7 1327.9,517.7 1328.3,517.7 1328.7,517.7 1329.1,517.7 1329.5,517.7 1329.9,517.7 1330.3,517.8 1330.7,517.8 1331.1,517.8 1331.5,517.8 1331.9,517.8 1332.3,517.8 1332.7,517.8M1345.3,518.2 1345.3,518.2 1345.7,518.3 1346.1,518.3 1346.5,518.3 1346.9,518.3 1347.3,518.3 1347.7,518.3 1348.1,518.3 1348.5,518.3 1348.9,518.3 1349.3,518.4 1349.7,518.4 1350.1,518.4 1350.5,518.4 1350.9,518.4M1363.4,518.8 1363.5,518.8 1363.9,518.8 1364.3,518.8 1364.7,518.8 1365.1,518.8 1365.5,518.8 1365.9,518.8 1366.3,518.8 1366.7,518.8 1367.1,518.9 1367.5,518.9 1367.9,518.9 1368.3,518.9 1368.7,518.9 1369.0,518.9M1381.6,519.2 1381.7,519.2 1382.1,519.2 1382.5,519.2 1382.9,519.2 1383.3,519.2 1383.7,519.2 1384.1,519.3 1384.5,519.3 1384.9,519.3 1385.3,519.3 1385.7,519.3 1386.1,519.3 1386.5,519.3 1386.9,519.3 1387.2,519.3M1399.7,519.6 1399.8,519.6 1400.2,519.6 1400.6,519.6 1401.0,519.6 1401.4,519.6 1401.8,519.6 1402.2,519.6 1402.6,519.6 1403.0,519.6 1403.4,519.7 1403.8,519.7 1404.2,519.7 1404.6,519.7 1405.0,519.7 1405.3,519.7M1417.9,519.9 1417.9,519.9 1418.3,519.9 1418.7,519.9 1419.1,519.9 1419.5,519.9 1419.9,520.0 1420.3,520.0 1420.7,520.0 1421.1,520.0 1421.5,520.0 1421.9,520.0 1422.3,520.0 1422.7,520.0 1423.1,520.0 1423.5,520.0M1436.0,520.2 1436.1,520.2 1436.5,520.2 1436.9,520.3 1437.3,520.3 1437.7,520.3 1438.1,520.3 1438.5,520.3 1438.9,520.3 1439.3,520.3 1439.7,520.3 1440.1,520.3 1440.5,520.3 1440.9,520.3 1441.3,520.3 1441.6,520.3M1454.2,520.5 1454.2,520.5 1454.6,520.5 1455.0,520.6 1455.4,520.6 1455.8,520.6 1456.2,520.6 1456.6,520.6 1457.0,520.6 1457.4,520.6 1457.8,520.6 1458.2,520.6 1458.6,520.6 1459.0,520.6 1459.4,520.6 1459.8,520.6M1472.3,520.9 1472.3,520.9 1472.7,520.9 1473.1,520.9 1473.5,520.9 1473.9,520.9 1474.3,520.9 1474.7,520.9 1475.1,520.9 1475.5,520.9 1475.9,520.9 1476.3,520.9 1476.7,520.9 1477.1,520.9 1477.5,520.9 1477.9,521.0M1490.5,521.2 1490.6,521.2 1491.0,521.2 1491.4,521.2 1491.8,521.2 1492.2,521.2 1492.6,521.2 1493.0,521.2 1493.4,521.2 1493.8,521.2 1494.2,521.3 1494.6,521.3 1495.0,521.3 1495.4,521.3 1495.8,521.3 1496.1,521.3M1508.6,521.5 1508.7,521.6 1509.1,521.6 1509.5,521.6 1509.9,521.6 1510.3,521.6 1510.7,521.6 1511.1,521.6 1511.5,521.6 1511.9,521.6 1512.3,521.6 1512.7,521.6 1513.1,521.6 1513.5,521.7 1513.9,521.7 1514.2,521.7M1526.8,521.9 1526.9,521.9 1527.3,522.0 1527.7,522.0 1528.1,522.0 1528.5,522.0 1528.9,522.0 1529.3,522.0 1529.7,522.0 1530.1,522.0 1530.5,522.0 1530.9,522.0 1531.3,522.0 1531.7,522.1 1532.1,522.1 1532.4,522.1M1544.9,522.4 1545.0,522.4 1545.4,522.4 1545.8,522.4 1546.2,522.4 1546.6,522.4 1547.0,522.4 1547.4,522.4 1547.8,522.4 1548.2,522.5 1548.6,522.5 1549.0,522.5 1549.4,522.5 1549.8,522.5 1550.2,522.5 1550.5,522.5M1563.1,522.8 1563.1,522.8 1563.5,522.8 1563.9,522.8 1564.3,522.9 1564.7,522.9 1565.1,522.9 1565.5,522.9 1565.9,522.9 1566.3,522.9 1566.7,522.9 1567.1,522.9 1567.5,522.9 1567.9,522.9 1568.3,523.0 1568.7,523.0M1581.2,523.3 1581.3,523.3 1581.7,523.3 1582.1,523.3 1582.5,523.3 1582.9,523.3 1583.3,523.3 1583.7,523.3 1584.1,523.3 1584.5,523.3 1584.9,523.3 1585.3,523.4 1585.7,523.4 1586.1,523.4 1586.5,523.4 1586.8,523.4M1599.4,523.7 1599.4,523.7 1599.8,523.7 1600.2,523.7 1600.6,523.7 1601.0,523.7 1601.4,523.7 1601.8,523.7 1602.2,523.7 1602.6,523.7 1603.0,523.7 1603.4,523.7 1603.8,523.7 1604.2,523.8 1604.6,523.8 1605.0,523.8M1617.5,524.0 1617.5,524.0 1617.9,524.0 1618.3,524.0 1618.7,524.0 1619.1,524.0 1619.5,524.0 1619.9,524.0 1620.3,524.0 1620.7,524.0 1621.1,524.0 1621.5,524.0 1621.9,524.0 1622.3,524.0 1622.7,524.0 1623.1,524.0M1635.7,524.1 1635.8,524.1 1636.2,524.1 1636.6,524.1 1637.0,524.1 1637.5,524.1 1637.9,524.1 1638.4,524.1 1638.9,524.1 1639.3,524.1 1639.8,524.1 1640.2,524.1 1640.7,524.1 1641.1,524.1 1641.3,524.1M979.7,493.6 979.8,493.6 980.2,493.7 980.6,493.8 981.0,493.9 981.4,494.0 981.8,494.1 982.2,494.2 982.6,494.3 983.0,494.4 983.4,494.5 983.8,494.5 984.2,494.6 984.6,494.7 985.0,494.8 985.1,494.8M994.9,496.8 995.0,496.8 995.4,496.9 995.8,496.9 996.2,497.0 996.6,497.1 997.0,497.1 997.4,497.2 997.8,497.3 998.2,497.3 998.6,497.4 999.0,497.5 999.4,497.6 999.8,497.6 1000.2,497.7 1000.5,497.7M1010.0,499.2 1010.1,499.2 1010.5,499.3 1010.9,499.3 1011.3,499.4 1011.7,499.4 1012.1,499.5 1012.5,499.5 1012.9,499.6 1013.3,499.6 1013.7,499.7 1014.1,499.7 1014.5,499.8 1014.9,499.8 1015.3,499.9 1015.6,499.9M1023.8,500.9 1023.9,500.9 1024.3,501.0 1024.7,501.0 1025.1,501.1 1025.5,501.1 1025.9,501.1 1026.3,501.2 1026.7,501.2 1027.1,501.3 1027.5,501.3 1027.9,501.4 1028.3,501.4 1028.7,501.4 1029.1,501.5 1029.4,501.5M1037.8,502.3 1037.9,502.3 1038.3,502.4 1038.7,502.4 1039.1,502.4 1039.5,502.5 1039.9,502.5 1040.3,502.5 1040.7,502.6 1041.1,502.6 1041.5,502.6 1041.9,502.7 1042.3,502.7 1042.7,502.7 1043.1,502.8 1043.4,502.8M1055.2,503.7 1055.3,503.7 1055.7,503.7 1056.1,503.8 1056.5,503.8 1056.9,503.8 1057.3,503.8 1057.7,503.9 1058.1,503.9 1058.5,503.9 1058.9,504.0 1059.3,504.0 1059.7,504.0 1060.1,504.0 1060.5,504.1 1060.8,504.1" fill="none" stroke="#c99302" stroke-width="4.0" stroke-linecap="round" stroke-linejoin="round"/>
<path d="M972.2,433.8 C973.5,434.1 977.5,435.0 980.2,435.6 C982.9,436.2 985.5,436.8 988.2,437.3 C990.9,437.9 993.5,438.4 996.2,438.9 C998.9,439.4 1001.5,439.9 1004.2,440.4 C1006.9,440.8 1009.5,441.3 1012.2,441.7 C1014.9,442.2 1017.5,442.6 1020.2,443.1 C1022.9,443.5 1025.5,443.9 1028.2,444.3 C1030.9,444.7 1033.5,445.1 1036.2,445.5 C1038.9,445.9 1041.5,446.2 1044.2,446.6 C1046.9,447.0 1049.5,447.4 1052.2,447.7 C1054.9,448.1 1057.5,448.4 1060.2,448.8 C1062.9,449.1 1065.5,449.5 1068.2,449.8 C1070.9,450.1 1073.5,450.5 1076.2,450.8 C1078.9,451.1 1081.5,451.4 1084.2,451.7 C1086.9,452.1 1089.5,452.4 1092.2,452.7 C1094.9,453.0 1097.5,453.3 1100.2,453.6 C1102.9,453.9 1105.5,454.2 1108.2,454.4 C1110.9,454.7 1113.5,455.0 1116.2,455.3 C1118.9,455.6 1121.5,455.9 1124.2,456.1 C1126.9,456.4 1129.5,456.7 1132.2,456.9 C1134.9,457.2 1137.5,457.5 1140.2,457.7 C1142.9,458.0 1145.5,458.2 1148.2,458.5 C1150.9,458.7 1153.5,459.0 1156.2,459.2 C1158.9,459.5 1161.5,459.7 1164.2,459.9 C1166.9,460.2 1169.5,460.4 1172.2,460.6 C1174.9,460.8 1177.5,461.1 1180.2,461.3 C1182.9,461.5 1185.5,461.7 1188.2,461.9 C1190.9,462.1 1193.5,462.3 1196.2,462.5 C1198.9,462.7 1201.5,462.9 1204.2,463.1 C1206.9,463.3 1209.5,463.5 1212.2,463.7 C1214.9,463.9 1217.5,464.1 1220.2,464.3 C1222.9,464.4 1225.5,464.6 1228.2,464.8 C1230.9,465.0 1233.5,465.1 1236.2,465.3 C1238.9,465.5 1241.5,465.7 1244.2,465.8 C1246.9,466.0 1249.5,466.1 1252.2,466.3 C1254.9,466.5 1257.5,466.6 1260.2,466.8 C1262.9,466.9 1265.5,467.1 1268.2,467.2 C1270.9,467.4 1273.5,467.6 1276.2,467.7 C1278.9,467.8 1281.5,468.0 1284.2,468.1 C1286.9,468.3 1289.5,468.4 1292.2,468.6 C1294.9,468.7 1297.5,468.9 1300.2,469.0 C1302.9,469.2 1305.5,469.3 1308.2,469.4 C1310.9,469.6 1313.5,469.7 1316.2,469.9 C1318.9,470.0 1321.5,470.1 1324.2,470.3 C1326.9,470.4 1329.5,470.6 1332.2,470.7 C1334.9,470.8 1337.5,471.0 1340.2,471.1 C1342.9,471.2 1345.5,471.4 1348.2,471.5 C1350.9,471.7 1353.5,471.8 1356.2,471.9 C1358.9,472.1 1361.5,472.2 1364.2,472.4 C1366.9,472.5 1369.5,472.6 1372.2,472.8 C1374.9,472.9 1377.5,473.1 1380.2,473.2 C1382.9,473.4 1385.5,473.5 1388.2,473.6 C1390.9,473.8 1393.5,473.9 1396.2,474.1 C1398.9,474.2 1401.5,474.4 1404.2,474.5 C1406.9,474.7 1409.5,474.8 1412.2,474.9 C1414.9,475.1 1417.5,475.2 1420.2,475.4 C1422.9,475.5 1425.5,475.7 1428.2,475.8 C1430.9,476.0 1433.5,476.1 1436.2,476.3 C1438.9,476.4 1441.5,476.5 1444.2,476.7 C1446.9,476.8 1449.5,477.0 1452.2,477.1 C1454.9,477.2 1457.5,477.4 1460.2,477.5 C1462.9,477.7 1465.5,477.8 1468.2,477.9 C1470.9,478.1 1473.5,478.2 1476.2,478.3 C1478.9,478.5 1481.5,478.6 1484.2,478.7 C1486.9,478.8 1489.5,479.0 1492.2,479.1 C1494.9,479.2 1497.5,479.3 1500.2,479.4 C1502.9,479.5 1505.5,479.6 1508.2,479.8 C1510.9,479.9 1513.5,480.0 1516.2,480.1 C1518.9,480.2 1521.5,480.3 1524.2,480.4 C1526.9,480.4 1529.5,480.5 1532.2,480.6 C1534.9,480.7 1537.5,480.8 1540.2,480.9 C1542.9,480.9 1545.5,481.0 1548.2,481.1 C1550.9,481.2 1553.5,481.2 1556.2,481.3 C1558.9,481.4 1561.5,481.4 1564.2,481.5 C1566.9,481.5 1569.5,481.6 1572.2,481.7 C1574.9,481.7 1577.5,481.8 1580.2,481.8 C1582.9,481.9 1585.5,481.9 1588.2,482.0 C1590.9,482.0 1593.5,482.1 1596.2,482.1 C1598.9,482.2 1601.5,482.3 1604.2,482.3 C1606.9,482.4 1609.5,482.5 1612.2,482.5 C1614.9,482.6 1617.5,482.7 1620.2,482.8 C1622.9,482.9 1625.5,483.0 1628.2,483.1 C1630.9,483.2 1633.5,483.3 1636.2,483.4 C1638.9,483.6 1642.9,483.8 1644.2,483.9" fill="none" stroke="#f3f3f3" stroke-width="0.8"/>
<path d="M1065.3,449.4 1065.4,449.4 1065.8,449.5 1066.2,449.5 1066.6,449.6 1067.0,449.6 1067.4,449.7M1089.1,452.3 1089.1,452.3 1089.5,452.4 1089.9,452.4 1090.3,452.5 1090.7,452.5 1091.1,452.5 1091.2,452.6M1112.9,455.0 1113.0,455.0 1113.4,455.0 1113.8,455.1 1114.2,455.1 1114.6,455.1 1115.0,455.2 1115.0,455.2M1136.8,457.4 1136.9,457.4 1137.3,457.4 1137.7,457.5 1138.1,457.5 1138.5,457.6 1138.8,457.6M1160.6,459.6 1160.7,459.6 1161.1,459.7 1161.5,459.7 1161.9,459.7 1162.3,459.8 1162.7,459.8M1184.5,461.6 1184.6,461.6 1185.0,461.7 1185.4,461.7 1185.8,461.7 1186.2,461.8 1186.6,461.8M1208.4,463.4 1208.5,463.4 1208.9,463.5 1209.3,463.5 1209.7,463.5 1210.1,463.5 1210.5,463.6 1210.5,463.6M1232.3,465.1 1232.3,465.1 1232.7,465.1 1233.1,465.1 1233.5,465.1 1233.9,465.2 1234.3,465.2 1234.4,465.2M1256.2,466.6 1256.3,466.6 1256.7,466.6 1257.1,466.6 1257.5,466.6 1257.9,466.7 1258.3,466.7M1280.1,467.9 1280.2,467.9 1280.6,467.9 1281.0,468.0 1281.4,468.0 1281.8,468.0 1282.2,468.0 1282.2,468.0M1304.1,469.2 1304.1,469.2 1304.5,469.2 1304.9,469.3 1305.3,469.3 1305.7,469.3 1306.1,469.3 1306.2,469.3M1328.0,470.5 1328.1,470.5 1328.5,470.5 1328.9,470.5 1329.3,470.5 1329.7,470.6 1330.1,470.6 1330.1,470.6M1351.9,471.7 1351.9,471.7 1352.3,471.7 1352.7,471.8 1353.1,471.8 1353.5,471.8 1353.9,471.8 1354.0,471.8M1375.8,473.0 1375.9,473.0 1376.3,473.0 1376.7,473.0 1377.1,473.1 1377.5,473.1 1377.9,473.1 1377.9,473.1M1399.8,474.3 1399.8,474.3 1400.2,474.3 1400.6,474.3 1401.0,474.3 1401.4,474.4 1401.8,474.4 1401.9,474.4M1423.7,475.6 1423.8,475.6 1424.2,475.6 1424.6,475.6 1425.0,475.6 1425.4,475.7 1425.8,475.7M1447.6,476.9 1447.7,476.9 1448.1,476.9 1448.5,476.9 1448.9,476.9 1449.3,477.0 1449.7,477.0 1449.7,477.0M1471.6,478.1 1471.7,478.1 1472.1,478.1 1472.5,478.1 1472.9,478.2 1473.3,478.2 1473.7,478.2M1495.5,479.2 1495.5,479.2 1495.9,479.2 1496.3,479.3 1496.7,479.3 1497.1,479.3 1497.5,479.3 1497.6,479.3M1519.4,480.2 1519.5,480.2 1519.9,480.2 1520.3,480.2 1520.7,480.2 1521.1,480.2 1521.5,480.3M1543.4,481.0 1543.4,481.0 1543.8,481.0 1544.2,481.0 1544.6,481.0 1545.0,481.0 1545.4,481.0 1545.5,481.0M1567.3,481.6 1567.4,481.6 1567.8,481.6 1568.2,481.6 1568.6,481.6 1569.0,481.6 1569.4,481.6 1569.4,481.6M1591.3,482.0 1591.4,482.0 1591.8,482.1 1592.2,482.1 1592.6,482.1 1593.0,482.1 1593.4,482.1M1615.2,482.6 1615.3,482.6 1615.7,482.6 1616.1,482.6 1616.5,482.7 1616.9,482.7 1617.3,482.7 1617.3,482.7M1639.2,483.6 1639.3,483.6 1639.8,483.6 1640.2,483.7 1640.7,483.7 1641.1,483.7 1641.3,483.7M973.1,434.0 973.2,434.0 973.5,434.1 973.9,434.2 974.3,434.3 974.7,434.4 975.1,434.5 975.1,434.5M989.7,437.6 989.8,437.6 990.2,437.7 990.6,437.8 991.0,437.9 991.4,438.0 991.7,438.0M1008.5,441.1 1008.5,441.1 1008.9,441.2 1009.3,441.2 1009.7,441.3 1010.1,441.4 1010.5,441.4 1010.5,441.5M1026.8,444.1 1026.9,444.1 1027.3,444.2 1027.7,444.2 1028.1,444.3 1028.5,444.3 1028.8,444.4M1043.2,446.5 1043.3,446.5 1043.7,446.5 1044.1,446.6 1044.5,446.7 1044.9,446.7 1045.2,446.8" fill="none" stroke="#1366d9" stroke-width="4.4" stroke-linecap="round" stroke-linejoin="round"/>
<path d="M972.2,124.6 C973.5,126.0 977.5,130.3 980.2,132.9 C982.9,135.6 985.5,138.1 988.2,140.6 C990.9,143.0 993.5,145.4 996.2,147.7 C998.9,150.0 1001.5,152.2 1004.2,154.3 C1006.9,156.5 1009.5,158.5 1012.2,160.6 C1014.9,162.6 1017.5,164.5 1020.2,166.4 C1022.9,168.3 1025.5,170.2 1028.2,172.0 C1030.9,173.8 1033.5,175.5 1036.2,177.3 C1038.9,179.0 1041.5,180.7 1044.2,182.3 C1046.9,184.0 1049.5,185.6 1052.2,187.2 C1054.9,188.8 1057.5,190.3 1060.2,191.9 C1062.9,193.4 1065.5,194.9 1068.2,196.4 C1070.9,197.9 1073.5,199.4 1076.2,200.8 C1078.9,202.3 1081.5,203.7 1084.2,205.2 C1086.9,206.6 1089.5,208.0 1092.2,209.4 C1094.9,210.8 1097.5,212.2 1100.2,213.6 C1102.9,214.9 1105.5,216.3 1108.2,217.6 C1110.9,219.0 1113.5,220.3 1116.2,221.6 C1118.9,223.0 1121.5,224.3 1124.2,225.6 C1126.9,226.9 1129.5,228.2 1132.2,229.5 C1134.9,230.8 1137.5,232.1 1140.2,233.4 C1142.9,234.6 1145.5,235.9 1148.2,237.2 C1150.9,238.4 1153.5,239.7 1156.2,240.9 C1158.9,242.2 1161.5,243.4 1164.2,244.7 C1166.9,245.9 1169.5,247.1 1172.2,248.3 C1174.9,249.5 1177.5,250.8 1180.2,251.9 C1182.9,253.1 1185.5,254.3 1188.2,255.5 C1190.9,256.7 1193.5,257.9 1196.2,259.1 C1198.9,260.2 1201.5,261.4 1204.2,262.5 C1206.9,263.7 1209.5,264.8 1212.2,266.0 C1214.9,267.1 1217.5,268.2 1220.2,269.3 C1222.9,270.5 1225.5,271.6 1228.2,272.7 C1230.9,273.8 1233.5,274.9 1236.2,275.9 C1238.9,277.0 1241.5,278.1 1244.2,279.2 C1246.9,280.2 1249.5,281.3 1252.2,282.3 C1254.9,283.4 1257.5,284.4 1260.2,285.4 C1262.9,286.5 1265.5,287.5 1268.2,288.5 C1270.9,289.5 1273.5,290.5 1276.2,291.5 C1278.9,292.5 1281.5,293.5 1284.2,294.5 C1286.9,295.5 1289.5,296.4 1292.2,297.4 C1294.9,298.4 1297.5,299.3 1300.2,300.3 C1302.9,301.2 1305.5,302.1 1308.2,303.1 C1310.9,304.0 1313.5,304.9 1316.2,305.9 C1318.9,306.8 1321.5,307.7 1324.2,308.6 C1326.9,309.5 1329.5,310.4 1332.2,311.3 C1334.9,312.2 1337.5,313.0 1340.2,313.9 C1342.9,314.8 1345.5,315.7 1348.2,316.5 C1350.9,317.4 1353.5,318.3 1356.2,319.1 C1358.9,320.0 1361.5,320.8 1364.2,321.7 C1366.9,322.5 1369.5,323.3 1372.2,324.2 C1374.9,325.0 1377.5,325.8 1380.2,326.6 C1382.9,327.5 1385.5,328.3 1388.2,329.1 C1390.9,329.9 1393.5,330.7 1396.2,331.5 C1398.9,332.3 1401.5,333.1 1404.2,333.9 C1406.9,334.7 1409.5,335.5 1412.2,336.3 C1414.9,337.1 1417.5,337.9 1420.2,338.6 C1422.9,339.4 1425.5,340.2 1428.2,341.0 C1430.9,341.7 1433.5,342.5 1436.2,343.2 C1438.9,344.0 1441.5,344.8 1444.2,345.5 C1446.9,346.3 1449.5,347.0 1452.2,347.7 C1454.9,348.5 1457.5,349.2 1460.2,349.9 C1462.9,350.7 1465.5,351.4 1468.2,352.1 C1470.9,352.8 1473.5,353.6 1476.2,354.3 C1478.9,355.0 1481.5,355.7 1484.2,356.4 C1486.9,357.1 1489.5,357.7 1492.2,358.4 C1494.9,359.1 1497.5,359.8 1500.2,360.4 C1502.9,361.1 1505.5,361.8 1508.2,362.4 C1510.9,363.1 1513.5,363.7 1516.2,364.4 C1518.9,365.0 1521.5,365.6 1524.2,366.3 C1526.9,366.9 1529.5,367.5 1532.2,368.1 C1534.9,368.7 1537.5,369.3 1540.2,369.9 C1542.9,370.5 1545.5,371.1 1548.2,371.7 C1550.9,372.3 1553.5,372.8 1556.2,373.4 C1558.9,374.0 1561.5,374.5 1564.2,375.1 C1566.9,375.6 1569.5,376.2 1572.2,376.7 C1574.9,377.2 1577.5,377.8 1580.2,378.3 C1582.9,378.8 1585.5,379.4 1588.2,379.9 C1590.9,380.4 1593.5,380.9 1596.2,381.4 C1598.9,381.9 1601.5,382.5 1604.2,383.0 C1606.9,383.5 1609.5,384.0 1612.2,384.5 C1614.9,385.1 1617.5,385.6 1620.2,386.1 C1622.9,386.7 1625.5,387.2 1628.2,387.8 C1630.9,388.3 1633.5,388.9 1636.2,389.5 C1638.9,390.0 1642.9,391.0 1644.2,391.3" fill="none" stroke="#f3f3f3" stroke-width="0.8"/>
<path d="M1162.2,243.7 1162.3,243.8 1162.7,244.0 1163.1,244.2 1163.5,244.4 1163.9,244.5 1164.3,244.7 1164.7,244.9 1165.1,245.1 1165.5,245.3 1165.9,245.5 1166.3,245.6 1166.7,245.8 1167.1,246.0 1167.5,246.2 1167.9,246.4 1168.3,246.6 1168.7,246.7 1169.1,246.9 1169.5,247.1 1169.9,247.3 1170.3,247.5 1170.7,247.7 1171.1,247.8 1171.5,248.0 1171.9,248.2 1172.3,248.4 1172.7,248.6 1173.1,248.8 1173.5,248.9 1173.9,249.1 1174.3,249.3 1174.7,249.5 1174.8,249.5M1187.9,255.4 1187.9,255.4 1188.3,255.6 1188.7,255.8 1189.1,255.9 1189.5,256.1 1189.7,256.2M1202.9,262.0 1203.0,262.0 1203.4,262.2 1203.8,262.4 1204.2,262.5 1204.6,262.7 1204.7,262.8M1217.9,268.4 1218.1,268.4 1218.5,268.6 1218.9,268.8 1219.3,268.9 1219.7,269.1 1220.1,269.3 1220.5,269.5 1220.9,269.6 1221.3,269.8 1221.7,270.0 1222.1,270.1 1222.5,270.3 1222.9,270.5 1223.3,270.6 1223.7,270.8 1224.1,271.0 1224.5,271.1 1224.9,271.3 1225.3,271.5 1225.7,271.6 1226.1,271.8 1226.5,272.0 1226.9,272.1 1227.3,272.3 1227.7,272.4 1228.1,272.6 1228.5,272.8 1228.9,272.9 1229.3,273.1 1229.7,273.3 1230.1,273.4 1230.5,273.6 1230.7,273.7M1244.0,279.1 1244.1,279.1 1244.5,279.3 1244.9,279.4 1245.3,279.6 1245.7,279.7 1245.9,279.8M1259.3,285.1 1259.4,285.1 1259.8,285.3 1260.2,285.4 1260.6,285.6 1261.0,285.8 1261.2,285.8M1274.6,290.9 1274.6,290.9 1275.0,291.1 1275.4,291.2 1275.8,291.4 1276.2,291.5 1276.6,291.7 1277.0,291.8 1277.4,292.0 1277.8,292.1 1278.2,292.3 1278.6,292.4 1279.0,292.6 1279.4,292.7 1279.8,292.9 1280.2,293.0 1280.6,293.2 1281.0,293.3 1281.4,293.4 1281.8,293.6 1282.2,293.7 1282.6,293.9 1283.0,294.0 1283.4,294.2 1283.8,294.3 1284.2,294.5 1284.6,294.6 1285.0,294.8 1285.4,294.9 1285.8,295.1 1286.2,295.2 1286.6,295.4 1287.0,295.5 1287.4,295.6 1287.5,295.7M1301.1,300.6 1301.1,300.6 1301.5,300.7 1301.9,300.9 1302.3,301.0 1302.7,301.2 1302.9,301.2M1316.5,306.0 1316.6,306.0 1317.0,306.1 1317.4,306.3 1317.8,306.4 1318.2,306.5 1318.4,306.6M1332.0,311.2 1332.1,311.2 1332.5,311.4 1332.9,311.5 1333.3,311.6 1333.7,311.8 1334.1,311.9 1334.5,312.0 1334.9,312.2 1335.3,312.3 1335.7,312.4 1336.1,312.6 1336.5,312.7 1336.9,312.8 1337.3,313.0 1337.7,313.1 1338.1,313.2 1338.5,313.3 1338.9,313.5 1339.3,313.6 1339.7,313.7 1340.1,313.9 1340.5,314.0 1340.9,314.1 1341.3,314.3 1341.7,314.4 1342.1,314.5 1342.5,314.7 1342.9,314.8 1343.3,314.9 1343.7,315.1 1344.1,315.2 1344.5,315.3 1344.9,315.4 1345.1,315.5M1358.8,320.0 1358.9,320.0 1359.3,320.1 1359.7,320.2 1360.1,320.3 1360.5,320.5 1360.7,320.6M1374.5,324.9 1374.6,324.9 1375.0,325.0 1375.4,325.2 1375.8,325.3 1376.2,325.4 1376.4,325.5M1390.1,329.7 1390.2,329.7 1390.6,329.8 1391.0,330.0 1391.4,330.1 1391.8,330.2 1392.2,330.3 1392.6,330.4 1393.0,330.6 1393.4,330.7 1393.8,330.8 1394.2,330.9 1394.6,331.0 1395.0,331.2 1395.4,331.3 1395.8,331.4 1396.2,331.5 1396.6,331.7 1397.0,331.8 1397.4,331.9 1397.8,332.0 1398.2,332.1 1398.6,332.3 1399.0,332.4 1399.4,332.5 1399.8,332.6 1400.2,332.7 1400.6,332.8 1401.0,333.0 1401.4,333.1 1401.8,333.2 1402.2,333.3 1402.6,333.4 1403.0,333.6 1403.3,333.7M1417.1,337.7 1417.1,337.7 1417.5,337.9 1417.9,338.0 1418.3,338.1 1418.7,338.2 1419.0,338.3M1432.9,342.3 1433.0,342.3 1433.4,342.5 1433.8,342.6 1434.2,342.7 1434.6,342.8 1434.8,342.9M1448.6,346.7 1448.7,346.8 1449.1,346.9 1449.5,347.0 1449.9,347.1 1450.3,347.2 1450.7,347.3 1451.1,347.4 1451.5,347.6 1451.9,347.7 1452.3,347.8 1452.7,347.9 1453.1,348.0 1453.5,348.1 1453.9,348.2 1454.3,348.3 1454.7,348.4 1455.1,348.6 1455.5,348.7 1455.9,348.8 1456.3,348.9 1456.7,349.0 1457.1,349.1 1457.5,349.2 1457.9,349.3 1458.3,349.4 1458.7,349.5 1459.1,349.7 1459.5,349.8 1459.9,349.9 1460.3,350.0 1460.7,350.1 1461.1,350.2 1461.5,350.3 1461.9,350.4M1475.8,354.2 1475.9,354.2 1476.3,354.3 1476.7,354.4 1477.1,354.5 1477.5,354.6 1477.8,354.7M1491.7,358.3 1491.8,358.3 1492.2,358.4 1492.6,358.5 1493.0,358.6 1493.4,358.7 1493.6,358.8M1507.5,362.3 1507.7,362.3 1508.1,362.4 1508.5,362.5 1508.9,362.6 1509.3,362.7 1509.7,362.8 1510.1,362.9 1510.5,363.0 1510.9,363.1 1511.3,363.2 1511.7,363.3 1512.1,363.4 1512.5,363.5 1512.9,363.6 1513.3,363.7 1513.7,363.8 1514.1,363.9 1514.5,364.0 1514.9,364.1 1515.3,364.2 1515.7,364.3 1516.1,364.3 1516.5,364.4 1516.9,364.5 1517.3,364.6 1517.7,364.7 1518.1,364.8 1518.5,364.9 1518.9,365.0 1519.3,365.1 1519.7,365.2 1520.1,365.3 1520.5,365.4 1520.9,365.5 1521.0,365.5M1535.0,368.8 1535.0,368.8 1535.4,368.8 1535.8,368.9 1536.2,369.0 1536.6,369.1 1536.9,369.2M1551.0,372.3 1551.0,372.3 1551.4,372.4 1551.8,372.5 1552.2,372.6 1552.6,372.6 1553.0,372.7M1567.0,375.6 1567.0,375.6 1567.4,375.7 1567.8,375.8 1568.2,375.9 1568.6,376.0 1569.0,376.1 1569.4,376.1 1569.8,376.2 1570.2,376.3 1570.6,376.4 1571.0,376.5 1571.4,376.5 1571.8,376.6 1572.2,376.7 1572.6,376.8 1573.0,376.9 1573.4,377.0 1573.8,377.0 1574.2,377.1 1574.6,377.2 1575.0,377.3 1575.4,377.4 1575.8,377.4 1576.2,377.5 1576.6,377.6 1577.0,377.7 1577.4,377.7 1577.8,377.8 1578.2,377.9 1578.6,378.0 1579.0,378.1 1579.4,378.1 1579.8,378.2 1580.2,378.3 1580.5,378.4M1594.7,381.1 1594.7,381.1 1595.1,381.2 1595.5,381.3 1595.9,381.4 1596.3,381.5 1596.6,381.5M1610.8,384.3 1610.9,384.3 1611.3,384.4 1611.7,384.4 1612.1,384.5 1612.5,384.6 1612.7,384.6M1626.8,387.5 1626.9,387.5 1627.3,387.6 1627.7,387.6 1628.1,387.7 1628.5,387.8 1628.9,387.9 1629.3,388.0 1629.7,388.1 1630.1,388.1 1630.5,388.2 1630.9,388.3 1631.3,388.4 1631.7,388.5 1632.1,388.6 1632.5,388.7 1632.9,388.7 1633.3,388.8 1633.7,388.9 1634.1,389.0 1634.5,389.1 1634.9,389.2 1635.3,389.3 1635.7,389.3 1636.1,389.4 1636.5,389.5 1636.9,389.6 1637.3,389.7 1637.8,389.8 1638.2,389.9 1638.7,390.0 1639.2,390.1 1639.6,390.2 1640.1,390.3 1640.3,390.4M972.7,125.2 972.8,125.2 973.1,125.5 973.4,125.9 973.8,126.3 974.1,126.7 974.5,127.1 975.0,127.5 975.4,128.0 975.9,128.4 976.3,128.9 976.8,129.4 977.2,129.9 977.7,130.4 978.2,130.9 978.6,131.3 979.1,131.8 979.5,132.2 979.9,132.6 980.3,133.1 980.7,133.5 981.1,133.8 981.5,134.2 981.9,134.6 982.3,135.0 982.4,135.1M994.2,146.0 994.3,146.1 994.7,146.4 995.1,146.8 995.5,147.1 995.8,147.3M1005.9,155.7 1005.9,155.7 1006.3,156.0 1006.7,156.4 1007.1,156.7 1007.5,156.9M1018.2,165.0 1018.2,165.0 1018.6,165.3 1019.0,165.6 1019.4,165.8 1019.8,166.1 1020.2,166.4 1020.6,166.7 1021.0,167.0 1021.4,167.3 1021.8,167.6 1022.2,167.8 1022.6,168.1 1023.0,168.4 1023.4,168.7 1023.8,169.0 1024.2,169.2 1024.6,169.5 1025.0,169.8 1025.4,170.1 1025.8,170.3 1026.2,170.6 1026.6,170.9 1027.0,171.2 1027.4,171.4 1027.8,171.7 1028.2,172.0 1028.6,172.2 1029.0,172.5 1029.4,172.8 1029.5,172.8M1038.0,178.4 1038.1,178.5 1038.5,178.7 1038.9,179.0 1039.3,179.2 1039.6,179.5M1049.6,185.6 1049.7,185.7 1050.1,185.9 1050.5,186.1 1050.9,186.4 1051.3,186.6 1051.4,186.7M1061.4,192.6 1061.5,192.6 1061.9,192.9 1062.3,193.1 1062.7,193.3 1063.1,193.6 1063.5,193.8 1063.9,194.0 1064.3,194.2 1064.7,194.5 1065.1,194.7 1065.5,194.9 1065.9,195.1 1066.3,195.4 1066.7,195.6 1067.1,195.8 1067.5,196.0 1067.9,196.3 1068.3,196.5 1068.7,196.7 1069.1,196.9 1069.5,197.2 1069.9,197.4 1070.3,197.6 1070.7,197.8 1071.1,198.1 1071.5,198.3 1071.9,198.5 1072.3,198.7 1072.7,198.9 1073.1,199.2 1073.4,199.3M1083.3,204.7 1083.4,204.7 1083.8,205.0 1084.2,205.2 1084.6,205.4 1085.0,205.6 1085.1,205.6M1097.0,211.9 1097.1,212.0 1097.5,212.2 1097.9,212.4 1098.3,212.6 1098.7,212.8 1098.8,212.8M1108.3,217.7 1108.3,217.7 1108.7,217.9 1109.1,218.1 1109.5,218.3 1109.9,218.5 1110.3,218.7 1110.7,218.9 1111.1,219.1 1111.5,219.3 1111.9,219.5 1112.3,219.7 1112.7,219.9 1113.1,220.1 1113.5,220.3 1113.9,220.5 1114.3,220.7 1114.7,220.9 1115.1,221.1 1115.5,221.3 1115.9,221.5 1116.3,221.7 1116.7,221.9 1117.1,222.1 1117.5,222.3 1117.9,222.5 1118.3,222.7 1118.7,222.9 1119.1,223.1 1119.5,223.3 1119.9,223.5 1120.3,223.7 1120.7,223.9M1132.4,229.6 1132.5,229.6 1132.9,229.8 1133.3,230.0 1133.7,230.2 1134.1,230.4 1134.2,230.5M1147.3,236.8 1147.4,236.8 1147.8,237.0 1148.2,237.2 1148.6,237.4 1149.0,237.6 1149.1,237.6" fill="none" stroke="#a56cd7" stroke-width="4.4" stroke-linecap="round" stroke-linejoin="round"/>
<path d="M972.2,307.6 C973.5,308.3 977.5,310.5 980.2,311.9 C982.9,313.3 985.5,314.6 988.2,315.9 C990.9,317.2 993.5,318.5 996.2,319.7 C998.9,320.9 1001.5,322.1 1004.2,323.3 C1006.9,324.4 1009.5,325.5 1012.2,326.6 C1014.9,327.7 1017.5,328.8 1020.2,329.8 C1022.9,330.9 1025.5,331.9 1028.2,332.9 C1030.9,333.9 1033.5,334.9 1036.2,335.8 C1038.9,336.8 1041.5,337.7 1044.2,338.6 C1046.9,339.5 1049.5,340.4 1052.2,341.3 C1054.9,342.2 1057.5,343.1 1060.2,344.0 C1062.9,344.8 1065.5,345.7 1068.2,346.5 C1070.9,347.4 1073.5,348.2 1076.2,349.0 C1078.9,349.8 1081.5,350.7 1084.2,351.5 C1086.9,352.3 1089.5,353.1 1092.2,353.8 C1094.9,354.6 1097.5,355.4 1100.2,356.2 C1102.9,357.0 1105.5,357.7 1108.2,358.5 C1110.9,359.2 1113.5,360.0 1116.2,360.7 C1118.9,361.5 1121.5,362.2 1124.2,362.9 C1126.9,363.7 1129.5,364.4 1132.2,365.1 C1134.9,365.8 1137.5,366.6 1140.2,367.3 C1142.9,368.0 1145.5,368.7 1148.2,369.4 C1150.9,370.1 1153.5,370.7 1156.2,371.4 C1158.9,372.1 1161.5,372.8 1164.2,373.5 C1166.9,374.1 1169.5,374.8 1172.2,375.5 C1174.9,376.1 1177.5,376.8 1180.2,377.4 C1182.9,378.1 1185.5,378.7 1188.2,379.4 C1190.9,380.0 1193.5,380.6 1196.2,381.2 C1198.9,381.9 1201.5,382.5 1204.2,383.1 C1206.9,383.7 1209.5,384.3 1212.2,384.9 C1214.9,385.5 1217.5,386.1 1220.2,386.7 C1222.9,387.3 1225.5,387.9 1228.2,388.4 C1230.9,389.0 1233.5,389.6 1236.2,390.2 C1238.9,390.7 1241.5,391.3 1244.2,391.9 C1246.9,392.4 1249.5,393.0 1252.2,393.5 C1254.9,394.0 1257.5,394.6 1260.2,395.1 C1262.9,395.7 1265.5,396.2 1268.2,396.7 C1270.9,397.2 1273.5,397.8 1276.2,398.3 C1278.9,398.8 1281.5,399.3 1284.2,399.8 C1286.9,400.3 1289.5,400.8 1292.2,401.3 C1294.9,401.8 1297.5,402.3 1300.2,402.8 C1302.9,403.3 1305.5,403.8 1308.2,404.3 C1310.9,404.8 1313.5,405.2 1316.2,405.7 C1318.9,406.2 1321.5,406.7 1324.2,407.1 C1326.9,407.6 1329.5,408.1 1332.2,408.6 C1334.9,409.0 1337.5,409.5 1340.2,409.9 C1342.9,410.4 1345.5,410.9 1348.2,411.3 C1350.9,411.8 1353.5,412.2 1356.2,412.7 C1358.9,413.1 1361.5,413.6 1364.2,414.0 C1366.9,414.5 1369.5,414.9 1372.2,415.3 C1374.9,415.8 1377.5,416.2 1380.2,416.7 C1382.9,417.1 1385.5,417.5 1388.2,418.0 C1390.9,418.4 1393.5,418.8 1396.2,419.2 C1398.9,419.7 1401.5,420.1 1404.2,420.5 C1406.9,421.0 1409.5,421.4 1412.2,421.8 C1414.9,422.2 1417.5,422.6 1420.2,423.0 C1422.9,423.4 1425.5,423.9 1428.2,424.3 C1430.9,424.7 1433.5,425.1 1436.2,425.5 C1438.9,425.9 1441.5,426.3 1444.2,426.7 C1446.9,427.1 1449.5,427.4 1452.2,427.8 C1454.9,428.2 1457.5,428.6 1460.2,429.0 C1462.9,429.3 1465.5,429.7 1468.2,430.1 C1470.9,430.4 1473.5,430.8 1476.2,431.2 C1478.9,431.5 1481.5,431.9 1484.2,432.2 C1486.9,432.6 1489.5,432.9 1492.2,433.2 C1494.9,433.6 1497.5,433.9 1500.2,434.2 C1502.9,434.6 1505.5,434.9 1508.2,435.2 C1510.9,435.5 1513.5,435.8 1516.2,436.1 C1518.9,436.4 1521.5,436.7 1524.2,437.0 C1526.9,437.3 1529.5,437.6 1532.2,437.9 C1534.9,438.1 1537.5,438.4 1540.2,438.7 C1542.9,438.9 1545.5,439.2 1548.2,439.4 C1550.9,439.7 1553.5,439.9 1556.2,440.2 C1558.9,440.4 1561.5,440.7 1564.2,440.9 C1566.9,441.1 1569.5,441.4 1572.2,441.6 C1574.9,441.8 1577.5,442.1 1580.2,442.3 C1582.9,442.5 1585.5,442.7 1588.2,443.0 C1590.9,443.2 1593.5,443.4 1596.2,443.7 C1598.9,443.9 1601.5,444.1 1604.2,444.4 C1606.9,444.6 1609.5,444.9 1612.2,445.1 C1614.9,445.4 1617.5,445.7 1620.2,446.0 C1622.9,446.2 1625.5,446.5 1628.2,446.9 C1630.9,447.2 1633.5,447.5 1636.2,447.9 C1638.9,448.3 1642.9,448.9 1644.2,449.1" fill="none" stroke="#f3f3f3" stroke-width="0.8"/>
<path d="M1073.6,348.2 1073.7,348.2 1074.1,348.4 1074.5,348.5 1074.9,348.6 1075.3,348.7 1075.7,348.9 1076.1,349.0 1076.5,349.1 1076.9,349.2 1077.3,349.3 1077.7,349.5 1078.1,349.6 1078.5,349.7 1078.9,349.8 1079.3,350.0 1079.7,350.1 1080.1,350.2 1080.5,350.3 1080.9,350.5 1081.3,350.6 1081.7,350.7 1082.1,350.8 1082.5,350.9 1082.9,351.1 1083.3,351.2 1083.7,351.3 1084.1,351.4 1084.5,351.5 1084.9,351.7 1085.3,351.8 1085.7,351.9 1086.1,352.0 1086.5,352.1 1086.9,352.3 1087.3,352.4 1087.7,352.5 1088.1,352.6 1088.5,352.7 1088.9,352.9 1089.3,353.0 1089.7,353.1 1090.1,353.2 1090.5,353.3 1090.9,353.4 1091.3,353.6 1091.7,353.7 1092.1,353.8 1092.5,353.9 1092.7,354.0M1106.5,358.0 1106.6,358.0 1107.0,358.1 1107.4,358.3 1107.8,358.4 1108.1,358.5M1122.2,362.4 1122.3,362.4 1122.7,362.5 1123.1,362.7 1123.5,362.8 1123.9,362.9 1124.3,363.0 1124.7,363.1 1125.1,363.2 1125.5,363.3 1125.9,363.4 1126.3,363.5 1126.7,363.6 1127.1,363.8 1127.5,363.9 1127.9,364.0 1128.3,364.1 1128.7,364.2 1129.1,364.3 1129.5,364.4 1129.9,364.5 1130.3,364.6 1130.7,364.7 1131.1,364.8 1131.5,364.9 1131.9,365.0 1132.3,365.2 1132.7,365.3 1133.1,365.4 1133.5,365.5 1133.9,365.6 1134.3,365.7 1134.7,365.8 1135.1,365.9 1135.5,366.0 1135.9,366.1 1136.3,366.2 1136.7,366.3 1137.1,366.4 1137.5,366.5 1137.9,366.7 1138.3,366.8 1138.7,366.9 1139.1,367.0 1139.5,367.1 1139.9,367.2 1140.3,367.3 1140.7,367.4 1141.1,367.5 1141.4,367.6M1155.3,371.2 1155.4,371.2 1155.8,371.3 1156.2,371.4 1156.6,371.5 1157.0,371.6M1171.2,375.2 1171.3,375.2 1171.7,375.3 1172.1,375.4 1172.5,375.5 1172.9,375.6 1173.3,375.7 1173.7,375.8 1174.1,375.9 1174.5,376.0 1174.9,376.1 1175.3,376.2 1175.7,376.3 1176.1,376.4 1176.5,376.5 1176.9,376.6 1177.3,376.7 1177.7,376.8 1178.1,376.9 1178.5,377.0 1178.9,377.1 1179.3,377.2 1179.7,377.3 1180.1,377.4 1180.5,377.5 1180.9,377.6 1181.3,377.7 1181.7,377.8 1182.1,377.9 1182.5,378.0 1182.9,378.1 1183.3,378.2 1183.7,378.3 1184.1,378.4 1184.5,378.5 1184.9,378.6 1185.3,378.6 1185.7,378.7 1186.1,378.8 1186.5,378.9 1186.9,379.0 1187.3,379.1 1187.7,379.2 1188.1,379.3 1188.5,379.4 1188.9,379.5 1189.3,379.6 1189.7,379.7 1190.1,379.8 1190.5,379.9 1190.5,379.9M1204.5,383.2 1204.6,383.2 1205.0,383.3 1205.4,383.4 1205.8,383.5 1206.2,383.5M1220.5,386.8 1220.5,386.8 1220.9,386.8 1221.3,386.9 1221.7,387.0 1222.1,387.1 1222.5,387.2 1222.9,387.3 1223.3,387.4 1223.7,387.5 1224.1,387.6 1224.5,387.6 1224.9,387.7 1225.3,387.8 1225.7,387.9 1226.1,388.0 1226.5,388.1 1226.9,388.2 1227.3,388.2 1227.7,388.3 1228.1,388.4 1228.5,388.5 1228.9,388.6 1229.3,388.7 1229.7,388.8 1230.1,388.9 1230.5,388.9 1230.9,389.0 1231.3,389.1 1231.7,389.2 1232.1,389.3 1232.5,389.4 1232.9,389.5 1233.3,389.5 1233.7,389.6 1234.1,389.7 1234.5,389.8 1234.9,389.9 1235.3,390.0 1235.7,390.0 1236.1,390.1 1236.5,390.2 1236.9,390.3 1237.3,390.4 1237.7,390.5 1238.1,390.6 1238.5,390.6 1238.9,390.7 1239.3,390.8 1239.7,390.9 1239.9,390.9M1254.0,393.9 1254.1,393.9 1254.5,394.0 1254.9,394.0 1255.3,394.1 1255.7,394.2 1255.7,394.2M1270.0,397.1 1270.1,397.1 1270.5,397.2 1270.9,397.2 1271.3,397.3 1271.7,397.4 1272.1,397.5 1272.5,397.5 1272.9,397.6 1273.3,397.7 1273.7,397.8 1274.1,397.9 1274.5,397.9 1274.9,398.0 1275.3,398.1 1275.7,398.2 1276.1,398.2 1276.5,398.3 1276.9,398.4 1277.3,398.5 1277.7,398.6 1278.1,398.6 1278.5,398.7 1278.9,398.8 1279.3,398.9 1279.7,398.9 1280.1,399.0 1280.5,399.1 1280.9,399.2 1281.3,399.2 1281.7,399.3 1282.1,399.4 1282.5,399.5 1282.9,399.6 1283.3,399.6 1283.7,399.7 1284.1,399.8 1284.5,399.9 1284.9,399.9 1285.3,400.0 1285.7,400.1 1286.1,400.2 1286.5,400.2 1286.9,400.3 1287.3,400.4 1287.7,400.5 1288.1,400.5 1288.5,400.6 1288.9,400.7 1289.3,400.8 1289.6,400.8M1303.7,403.5 1303.8,403.5 1304.2,403.5 1304.6,403.6 1305.0,403.7 1305.4,403.8M1319.8,406.4 1319.8,406.4 1320.2,406.4 1320.6,406.5 1321.0,406.6 1321.4,406.6 1321.8,406.7 1322.2,406.8 1322.6,406.9 1323.0,406.9 1323.4,407.0 1323.8,407.1 1324.2,407.1 1324.6,407.2 1325.0,407.3 1325.4,407.4 1325.8,407.4 1326.2,407.5 1326.6,407.6 1327.0,407.6 1327.4,407.7 1327.8,407.8 1328.2,407.8 1328.6,407.9 1329.0,408.0 1329.4,408.1 1329.8,408.1 1330.2,408.2 1330.6,408.3 1331.0,408.3 1331.4,408.4 1331.8,408.5 1332.2,408.6 1332.6,408.6 1333.0,408.7 1333.4,408.8 1333.8,408.8 1334.2,408.9 1334.6,409.0 1335.0,409.0 1335.4,409.1 1335.8,409.2 1336.2,409.2 1336.6,409.3 1337.0,409.4 1337.4,409.5 1337.8,409.5 1338.2,409.6 1338.6,409.7 1339.0,409.7 1339.4,409.8M1353.6,412.2 1353.7,412.2 1354.1,412.3 1354.5,412.4 1354.9,412.4 1355.2,412.5M1369.7,414.9 1369.7,414.9 1370.1,415.0 1370.5,415.1 1370.9,415.1 1371.3,415.2 1371.7,415.3 1372.1,415.3 1372.5,415.4 1372.9,415.5 1373.3,415.5 1373.7,415.6 1374.1,415.6 1374.5,415.7 1374.9,415.8 1375.3,415.8 1375.7,415.9 1376.1,416.0 1376.5,416.0 1376.9,416.1 1377.3,416.2 1377.7,416.2 1378.1,416.3 1378.5,416.4 1378.9,416.4 1379.3,416.5 1379.7,416.6 1380.1,416.6 1380.5,416.7 1380.9,416.8 1381.3,416.8 1381.7,416.9 1382.1,417.0 1382.5,417.0 1382.9,417.1 1383.3,417.2 1383.7,417.2 1384.1,417.3 1384.5,417.4 1384.9,417.4 1385.3,417.5 1385.7,417.5 1386.1,417.6 1386.5,417.7 1386.9,417.7 1387.3,417.8 1387.7,417.9 1388.1,417.9 1388.5,418.0 1388.9,418.1 1389.3,418.1 1389.3,418.1M1403.5,420.4 1403.5,420.4 1403.9,420.5 1404.3,420.6 1404.7,420.6 1405.1,420.7 1405.2,420.7M1419.6,422.9 1419.7,422.9 1420.1,423.0 1420.5,423.1 1420.9,423.1 1421.3,423.2 1421.7,423.3 1422.1,423.3 1422.5,423.4 1422.9,423.4 1423.3,423.5 1423.7,423.6 1424.1,423.6 1424.5,423.7 1424.9,423.7 1425.3,423.8 1425.7,423.9 1426.1,423.9 1426.5,424.0 1426.9,424.1 1427.3,424.1 1427.7,424.2 1428.1,424.2 1428.5,424.3 1428.9,424.4 1429.3,424.4 1429.7,424.5 1430.1,424.5 1430.5,424.6 1430.9,424.7 1431.3,424.7 1431.7,424.8 1432.1,424.8 1432.5,424.9 1432.9,425.0 1433.3,425.0 1433.7,425.1 1434.1,425.1 1434.5,425.2 1434.9,425.3 1435.3,425.3 1435.7,425.4 1436.1,425.4 1436.5,425.5 1436.9,425.6 1437.3,425.6 1437.7,425.7 1438.1,425.7 1438.5,425.8 1438.9,425.9 1439.3,425.9 1439.3,425.9M1453.6,428.0 1453.7,428.0 1454.1,428.1 1454.5,428.1 1454.9,428.2 1455.3,428.3M1469.7,430.3 1469.8,430.3 1470.2,430.4 1470.6,430.4 1471.0,430.5 1471.4,430.5 1471.8,430.6 1472.2,430.6 1472.6,430.7 1473.0,430.7 1473.4,430.8 1473.8,430.8 1474.2,430.9 1474.6,431.0 1475.0,431.0 1475.4,431.1 1475.8,431.1 1476.2,431.2 1476.6,431.2 1477.0,431.3 1477.4,431.3 1477.8,431.4 1478.2,431.4 1478.6,431.5 1479.0,431.5 1479.4,431.6 1479.8,431.7 1480.2,431.7 1480.6,431.8 1481.0,431.8 1481.4,431.9 1481.8,431.9 1482.2,432.0 1482.6,432.0 1483.0,432.1 1483.4,432.1 1483.8,432.2 1484.2,432.2 1484.6,432.3 1485.0,432.3 1485.4,432.4 1485.8,432.4 1486.2,432.5 1486.6,432.5 1487.0,432.6 1487.4,432.6 1487.8,432.7 1488.2,432.7 1488.6,432.8 1489.0,432.8 1489.4,432.9 1489.5,432.9M1503.7,434.7 1503.8,434.7 1504.2,434.7 1504.6,434.8 1505.0,434.8 1505.4,434.9 1505.4,434.9M1520.0,436.5 1520.1,436.5 1520.5,436.6 1520.9,436.6 1521.3,436.7 1521.7,436.7 1522.1,436.8 1522.5,436.8 1522.9,436.9 1523.3,436.9 1523.7,436.9 1524.1,437.0 1524.5,437.0 1524.9,437.1 1525.3,437.1 1525.7,437.2 1526.1,437.2 1526.5,437.2 1526.9,437.3 1527.3,437.3 1527.7,437.4 1528.1,437.4 1528.5,437.5 1528.9,437.5 1529.3,437.5 1529.7,437.6 1530.1,437.6 1530.5,437.7 1530.9,437.7 1531.3,437.8 1531.7,437.8 1532.1,437.8 1532.5,437.9 1532.9,437.9 1533.3,438.0 1533.7,438.0 1534.1,438.0 1534.5,438.1 1534.9,438.1 1535.3,438.2 1535.7,438.2 1536.1,438.2 1536.5,438.3 1536.9,438.3 1537.3,438.4 1537.7,438.4 1538.1,438.4 1538.5,438.5 1538.9,438.5 1539.3,438.6 1539.7,438.6 1539.8,438.6M1554.1,440.0 1554.2,440.0 1554.6,440.0 1555.0,440.1 1555.4,440.1 1555.8,440.1M1570.3,441.4 1570.5,441.5 1570.9,441.5 1571.3,441.5 1571.7,441.6 1572.1,441.6 1572.5,441.6 1572.9,441.7 1573.3,441.7 1573.7,441.7 1574.1,441.8 1574.5,441.8 1574.9,441.8 1575.3,441.9 1575.7,441.9 1576.1,441.9 1576.5,442.0 1576.9,442.0 1577.3,442.0 1577.7,442.1 1578.1,442.1 1578.5,442.1 1578.9,442.2 1579.3,442.2 1579.7,442.2 1580.1,442.3 1580.5,442.3 1580.9,442.3 1581.3,442.4 1581.7,442.4 1582.1,442.4 1582.5,442.5 1582.9,442.5 1583.3,442.5 1583.7,442.6 1584.1,442.6 1584.5,442.6 1584.9,442.7 1585.3,442.7 1585.7,442.8 1586.1,442.8 1586.5,442.8 1586.9,442.9 1587.3,442.9 1587.7,442.9 1588.1,443.0 1588.5,443.0 1588.9,443.0 1589.3,443.1 1589.7,443.1 1590.1,443.1 1590.2,443.1M1604.5,444.4 1604.6,444.4 1605.0,444.5 1605.4,444.5 1605.8,444.5 1606.2,444.6 1606.2,444.6M1620.8,446.0 1620.9,446.0 1621.3,446.1 1621.7,446.1 1622.1,446.2 1622.5,446.2 1622.9,446.3 1623.3,446.3 1623.7,446.3 1624.1,446.4 1624.5,446.4 1624.9,446.5 1625.3,446.5 1625.7,446.6 1626.1,446.6 1626.5,446.7 1626.9,446.7 1627.3,446.8 1627.7,446.8 1628.1,446.9 1628.5,446.9 1628.9,447.0 1629.3,447.0 1629.7,447.0 1630.1,447.1 1630.5,447.1 1630.9,447.2 1631.3,447.2 1631.7,447.3 1632.1,447.4 1632.5,447.4 1632.9,447.5 1633.3,447.5 1633.7,447.6 1634.1,447.6 1634.5,447.7 1634.9,447.7 1635.3,447.8 1635.7,447.8 1636.1,447.9 1636.5,447.9 1636.9,448.0 1637.3,448.1 1637.8,448.1 1638.2,448.2 1638.7,448.3 1639.2,448.3 1639.6,448.4 1640.1,448.5 1640.5,448.5M973.8,308.4 973.9,308.5 974.3,308.7 974.7,308.9 975.1,309.1 975.6,309.4 976.0,309.6 976.5,309.9 976.9,310.1 977.4,310.4 977.9,310.6 978.3,310.9 978.8,311.1 979.2,311.4 979.7,311.6 980.1,311.8 980.5,312.0 980.9,312.2 981.3,312.4 981.7,312.7 982.1,312.9 982.5,313.1 982.9,313.3 983.3,313.5 983.7,313.7 984.1,313.9 984.5,314.1 984.9,314.3 985.3,314.5 985.7,314.7 986.1,314.9 986.5,315.1 986.9,315.3 987.3,315.5 987.7,315.7 988.1,315.9 988.5,316.1 988.9,316.3 989.3,316.5 989.7,316.7 990.1,316.8 990.5,317.0 990.9,317.2 991.3,317.4 991.5,317.5M1001.6,322.2 1001.7,322.2 1002.1,322.4 1002.5,322.5 1002.9,322.7 1003.2,322.8M1014.0,327.4 1014.1,327.4 1014.5,327.6 1014.9,327.7 1015.3,327.9 1015.7,328.0 1016.1,328.2 1016.5,328.4 1016.9,328.5 1017.3,328.7 1017.7,328.8 1018.1,329.0 1018.5,329.2 1018.9,329.3 1019.3,329.5 1019.7,329.6 1020.1,329.8 1020.5,329.9 1020.9,330.1 1021.3,330.3 1021.7,330.4 1022.1,330.6 1022.5,330.7 1022.9,330.9 1023.3,331.0 1023.7,331.2 1024.1,331.3 1024.5,331.5 1024.9,331.6 1025.3,331.8 1025.7,331.9 1026.1,332.1 1026.5,332.2 1026.9,332.4 1027.3,332.5 1027.7,332.7 1028.1,332.8 1028.5,333.0 1028.9,333.1 1029.3,333.3 1029.7,333.4 1030.1,333.6 1030.5,333.7 1030.9,333.9 1031.3,334.0 1031.7,334.2 1032.1,334.3 1032.5,334.5 1032.9,334.6 1033.3,334.7 1033.7,334.9 1034.1,335.0 1034.5,335.2 1034.9,335.3 1035.3,335.5 1035.7,335.6 1036.1,335.8 1036.5,335.9 1036.9,336.0 1037.3,336.2 1037.7,336.3 1038.1,336.5 1038.5,336.6 1038.9,336.8 1039.3,336.9 1039.7,337.0 1040.1,337.2 1040.5,337.3 1040.9,337.5 1041.3,337.6 1041.7,337.7 1042.1,337.9 1042.5,338.0 1042.9,338.2 1043.3,338.3 1043.7,338.4 1044.1,338.6 1044.5,338.7 1044.9,338.8 1045.3,339.0 1045.7,339.1 1046.1,339.3 1046.5,339.4 1046.8,339.5M1060.1,343.9 1060.2,344.0 1060.6,344.1 1061.0,344.2 1061.4,344.4 1061.7,344.5" fill="none" stroke="#32aa69" stroke-width="4.4" stroke-linecap="round" stroke-linejoin="round"/>
<path d="M972.2,355.1 C973.5,355.6 977.5,357.4 980.2,358.6 C982.9,359.7 985.5,360.8 988.2,361.8 C990.9,362.8 993.5,363.8 996.2,364.8 C998.9,365.8 1001.5,366.7 1004.2,367.6 C1006.9,368.5 1009.5,369.3 1012.2,370.2 C1014.9,371.0 1017.5,371.8 1020.2,372.6 C1022.9,373.4 1025.5,374.2 1028.2,375.0 C1030.9,375.7 1033.5,376.5 1036.2,377.2 C1038.9,377.9 1041.5,378.6 1044.2,379.4 C1046.9,380.1 1049.5,380.7 1052.2,381.4 C1054.9,382.1 1057.5,382.8 1060.2,383.4 C1062.9,384.1 1065.5,384.8 1068.2,385.4 C1070.9,386.0 1073.5,386.7 1076.2,387.3 C1078.9,388.0 1081.5,388.6 1084.2,389.2 C1086.9,389.8 1089.5,390.5 1092.2,391.1 C1094.9,391.7 1097.5,392.3 1100.2,392.9 C1102.9,393.5 1105.5,394.1 1108.2,394.7 C1110.9,395.3 1113.5,395.9 1116.2,396.5 C1118.9,397.1 1121.5,397.7 1124.2,398.2 C1126.9,398.8 1129.5,399.4 1132.2,400.0 C1134.9,400.6 1137.5,401.1 1140.2,401.7 C1142.9,402.3 1145.5,402.8 1148.2,403.4 C1150.9,404.0 1153.5,404.5 1156.2,405.1 C1158.9,405.6 1161.5,406.2 1164.2,406.7 C1166.9,407.3 1169.5,407.8 1172.2,408.3 C1174.9,408.9 1177.5,409.4 1180.2,409.9 C1182.9,410.5 1185.5,411.0 1188.2,411.5 C1190.9,412.0 1193.5,412.5 1196.2,413.0 C1198.9,413.5 1201.5,414.1 1204.2,414.6 C1206.9,415.0 1209.5,415.5 1212.2,416.0 C1214.9,416.5 1217.5,417.0 1220.2,417.5 C1222.9,418.0 1225.5,418.4 1228.2,418.9 C1230.9,419.4 1233.5,419.8 1236.2,420.3 C1238.9,420.8 1241.5,421.2 1244.2,421.7 C1246.9,422.1 1249.5,422.6 1252.2,423.0 C1254.9,423.4 1257.5,423.9 1260.2,424.3 C1262.9,424.7 1265.5,425.2 1268.2,425.6 C1270.9,426.0 1273.5,426.4 1276.2,426.8 C1278.9,427.2 1281.5,427.6 1284.2,428.1 C1286.9,428.5 1289.5,428.9 1292.2,429.2 C1294.9,429.6 1297.5,430.0 1300.2,430.4 C1302.9,430.8 1305.5,431.2 1308.2,431.6 C1310.9,432.0 1313.5,432.3 1316.2,432.7 C1318.9,433.1 1321.5,433.5 1324.2,433.8 C1326.9,434.2 1329.5,434.6 1332.2,434.9 C1334.9,435.3 1337.5,435.6 1340.2,436.0 C1342.9,436.4 1345.5,436.7 1348.2,437.1 C1350.9,437.4 1353.5,437.8 1356.2,438.1 C1358.9,438.5 1361.5,438.8 1364.2,439.2 C1366.9,439.5 1369.5,439.9 1372.2,440.2 C1374.9,440.5 1377.5,440.9 1380.2,441.2 C1382.9,441.6 1385.5,441.9 1388.2,442.2 C1390.9,442.6 1393.5,442.9 1396.2,443.2 C1398.9,443.6 1401.5,443.9 1404.2,444.2 C1406.9,444.6 1409.5,444.9 1412.2,445.2 C1414.9,445.6 1417.5,445.9 1420.2,446.2 C1422.9,446.5 1425.5,446.9 1428.2,447.2 C1430.9,447.5 1433.5,447.8 1436.2,448.1 C1438.9,448.4 1441.5,448.8 1444.2,449.1 C1446.9,449.4 1449.5,449.7 1452.2,450.0 C1454.9,450.3 1457.5,450.6 1460.2,450.9 C1462.9,451.2 1465.5,451.5 1468.2,451.8 C1470.9,452.1 1473.5,452.4 1476.2,452.7 C1478.9,453.0 1481.5,453.3 1484.2,453.6 C1486.9,453.9 1489.5,454.1 1492.2,454.4 C1494.9,454.7 1497.5,455.0 1500.2,455.2 C1502.9,455.5 1505.5,455.8 1508.2,456.0 C1510.9,456.3 1513.5,456.5 1516.2,456.8 C1518.9,457.0 1521.5,457.3 1524.2,457.5 C1526.9,457.7 1529.5,458.0 1532.2,458.2 C1534.9,458.4 1537.5,458.7 1540.2,458.9 C1542.9,459.1 1545.5,459.3 1548.2,459.5 C1550.9,459.7 1553.5,459.9 1556.2,460.1 C1558.9,460.3 1561.5,460.5 1564.2,460.7 C1566.9,460.9 1569.5,461.1 1572.2,461.3 C1574.9,461.5 1577.5,461.6 1580.2,461.8 C1582.9,462.0 1585.5,462.2 1588.2,462.4 C1590.9,462.6 1593.5,462.7 1596.2,462.9 C1598.9,463.1 1601.5,463.3 1604.2,463.5 C1606.9,463.6 1609.5,463.8 1612.2,464.0 C1614.9,464.2 1617.5,464.4 1620.2,464.6 C1622.9,464.9 1625.5,465.1 1628.2,465.3 C1630.9,465.6 1633.5,465.8 1636.2,466.1 C1638.9,466.4 1642.9,466.8 1644.2,467.0" fill="none" stroke="#f3f3f3" stroke-width="0.8"/>
<path d="M1068.3,385.4 1068.3,385.4 1068.7,385.5 1069.1,385.6 1069.5,385.7 1069.9,385.8 1070.3,385.9 1070.7,386.0 1071.1,386.1 1071.5,386.2 1071.9,386.3 1072.3,386.4 1072.7,386.5 1073.1,386.6 1073.5,386.7 1073.9,386.8 1074.3,386.9 1074.7,387.0 1075.1,387.1 1075.5,387.2 1075.9,387.3 1076.3,387.4 1076.7,387.5 1077.1,387.6 1077.5,387.6 1077.9,387.7 1078.3,387.8 1078.7,387.9 1079.1,388.0 1079.5,388.1 1079.9,388.2 1080.3,388.3 1080.7,388.4 1081.1,388.5 1081.5,388.6 1081.9,388.7 1082.3,388.8 1082.7,388.9 1083.1,389.0 1083.5,389.1 1083.9,389.1 1084.3,389.2 1084.4,389.2M1107.4,394.5 1107.5,394.6 1107.9,394.6 1108.3,394.7 1108.7,394.8 1109.1,394.9 1109.5,395.0 1109.9,395.1 1110.3,395.2 1110.7,395.3 1111.1,395.4 1111.5,395.4 1111.9,395.5 1112.3,395.6 1112.7,395.7 1113.1,395.8 1113.5,395.9 1113.9,396.0 1114.3,396.1 1114.7,396.2 1115.1,396.2 1115.5,396.3 1115.9,396.4 1116.3,396.5 1116.7,396.6 1117.1,396.7 1117.5,396.8 1117.9,396.9 1118.3,397.0 1118.7,397.0 1119.1,397.1 1119.5,397.2 1119.9,397.3 1120.3,397.4 1120.7,397.5 1121.1,397.6 1121.5,397.7 1121.9,397.7 1122.3,397.8 1122.7,397.9 1123.1,398.0 1123.5,398.1 1123.6,398.1M1146.7,403.1 1146.7,403.1 1147.1,403.2 1147.5,403.2 1147.9,403.3 1148.3,403.4 1148.7,403.5 1149.1,403.6 1149.5,403.7 1149.9,403.8 1150.3,403.8 1150.7,403.9 1151.1,404.0 1151.5,404.1 1151.9,404.2 1152.3,404.3 1152.7,404.3 1153.1,404.4 1153.5,404.5 1153.9,404.6 1154.3,404.7 1154.7,404.8 1155.1,404.8 1155.5,404.9 1155.9,405.0 1156.3,405.1 1156.7,405.2 1157.1,405.3 1157.5,405.3 1157.9,405.4 1158.3,405.5 1158.7,405.6 1159.1,405.7 1159.5,405.8 1159.9,405.8 1160.3,405.9 1160.7,406.0 1161.1,406.1 1161.5,406.2 1161.9,406.2 1162.3,406.3 1162.7,406.4 1162.9,406.4M1186.1,411.1 1186.2,411.1 1186.6,411.2 1187.0,411.3 1187.4,411.3 1187.8,411.4 1188.2,411.5 1188.6,411.6 1189.0,411.7 1189.4,411.7 1189.8,411.8 1190.2,411.9 1190.6,412.0 1191.0,412.0 1191.4,412.1 1191.8,412.2 1192.2,412.3 1192.6,412.4 1193.0,412.4 1193.4,412.5 1193.8,412.6 1194.2,412.7 1194.6,412.7 1195.0,412.8 1195.4,412.9 1195.8,413.0 1196.2,413.0 1196.6,413.1 1197.0,413.2 1197.4,413.3 1197.8,413.3 1198.2,413.4 1198.6,413.5 1199.0,413.6 1199.4,413.6 1199.8,413.7 1200.2,413.8 1200.6,413.9 1201.0,413.9 1201.4,414.0 1201.8,414.1 1202.2,414.2 1202.3,414.2M1225.6,418.4 1225.7,418.5 1226.1,418.5 1226.5,418.6 1226.9,418.7 1227.3,418.7 1227.7,418.8 1228.1,418.9 1228.5,419.0 1228.9,419.0 1229.3,419.1 1229.7,419.2 1230.1,419.2 1230.5,419.3 1230.9,419.4 1231.3,419.4 1231.7,419.5 1232.1,419.6 1232.5,419.7 1232.9,419.7 1233.3,419.8 1233.7,419.9 1234.1,419.9 1234.5,420.0 1234.9,420.1 1235.3,420.1 1235.7,420.2 1236.1,420.3 1236.5,420.3 1236.9,420.4 1237.3,420.5 1237.7,420.6 1238.1,420.6 1238.5,420.7 1238.9,420.8 1239.3,420.8 1239.7,420.9 1240.1,421.0 1240.5,421.0 1240.9,421.1 1241.3,421.2 1241.7,421.2 1241.8,421.3M1265.2,425.1 1265.3,425.1 1265.7,425.2 1266.1,425.2 1266.5,425.3 1266.9,425.4 1267.3,425.4 1267.7,425.5 1268.1,425.6 1268.5,425.6 1268.9,425.7 1269.3,425.7 1269.7,425.8 1270.1,425.9 1270.5,425.9 1270.9,426.0 1271.3,426.1 1271.7,426.1 1272.1,426.2 1272.5,426.3 1272.9,426.3 1273.3,426.4 1273.7,426.4 1274.1,426.5 1274.5,426.6 1274.9,426.6 1275.3,426.7 1275.7,426.7 1276.1,426.8 1276.5,426.9 1276.9,426.9 1277.3,427.0 1277.7,427.1 1278.1,427.1 1278.5,427.2 1278.9,427.2 1279.3,427.3 1279.7,427.4 1280.1,427.4 1280.5,427.5 1280.9,427.5 1281.3,427.6 1281.5,427.6M1304.9,431.1 1305.0,431.1 1305.4,431.2 1305.8,431.2 1306.2,431.3 1306.6,431.4 1307.0,431.4 1307.4,431.5 1307.8,431.5 1308.2,431.6 1308.6,431.6 1309.0,431.7 1309.4,431.8 1309.8,431.8 1310.2,431.9 1310.6,431.9 1311.0,432.0 1311.4,432.0 1311.8,432.1 1312.2,432.1 1312.6,432.2 1313.0,432.3 1313.4,432.3 1313.8,432.4 1314.2,432.4 1314.6,432.5 1315.0,432.5 1315.4,432.6 1315.8,432.7 1316.2,432.7 1316.6,432.8 1317.0,432.8 1317.4,432.9 1317.8,432.9 1318.2,433.0 1318.6,433.0 1319.0,433.1 1319.4,433.2 1319.8,433.2 1320.2,433.3 1320.6,433.3 1321.0,433.4 1321.3,433.4M1344.7,436.6 1344.9,436.6 1345.3,436.7 1345.7,436.7 1346.1,436.8 1346.5,436.8 1346.9,436.9 1347.3,436.9 1347.7,437.0 1348.1,437.1 1348.5,437.1 1348.9,437.2 1349.3,437.2 1349.7,437.3 1350.1,437.3 1350.5,437.4 1350.9,437.4 1351.3,437.5 1351.7,437.5 1352.1,437.6 1352.5,437.6 1352.9,437.7 1353.3,437.7 1353.7,437.8 1354.1,437.8 1354.5,437.9 1354.9,438.0 1355.3,438.0 1355.7,438.1 1356.1,438.1 1356.5,438.2 1356.9,438.2 1357.3,438.3 1357.7,438.3 1358.1,438.4 1358.5,438.4 1358.9,438.5 1359.3,438.5 1359.7,438.6 1360.1,438.6 1360.5,438.7 1360.9,438.7 1361.1,438.8M1384.6,441.8 1384.6,441.8 1385.0,441.8 1385.4,441.9 1385.8,441.9 1386.2,442.0 1386.6,442.0 1387.0,442.1 1387.4,442.1 1387.8,442.2 1388.2,442.2 1388.6,442.3 1389.0,442.3 1389.4,442.4 1389.8,442.4 1390.2,442.5 1390.6,442.5 1391.0,442.6 1391.4,442.6 1391.8,442.7 1392.2,442.7 1392.6,442.8 1393.0,442.8 1393.4,442.9 1393.8,442.9 1394.2,443.0 1394.6,443.0 1395.0,443.1 1395.4,443.1 1395.8,443.2 1396.2,443.2 1396.6,443.3 1397.0,443.3 1397.4,443.4 1397.8,443.4 1398.2,443.5 1398.6,443.5 1399.0,443.6 1399.4,443.6 1399.8,443.7 1400.2,443.7 1400.6,443.8 1401.0,443.8M1424.5,446.7 1424.5,446.7 1424.9,446.8 1425.3,446.8 1425.7,446.9 1426.1,446.9 1426.5,447.0 1426.9,447.0 1427.3,447.1 1427.7,447.1 1428.1,447.2 1428.5,447.2 1428.9,447.3 1429.3,447.3 1429.7,447.4 1430.1,447.4 1430.5,447.5 1430.9,447.5 1431.3,447.5 1431.7,447.6 1432.1,447.6 1432.5,447.7 1432.9,447.7 1433.3,447.8 1433.7,447.8 1434.1,447.9 1434.5,447.9 1434.9,448.0 1435.3,448.0 1435.7,448.1 1436.1,448.1 1436.5,448.2 1436.9,448.2 1437.3,448.3 1437.7,448.3 1438.1,448.4 1438.5,448.4 1438.9,448.4 1439.3,448.5 1439.7,448.5 1440.1,448.6 1440.5,448.6 1440.8,448.7M1464.4,451.4 1464.5,451.4 1464.9,451.5 1465.3,451.5 1465.7,451.5 1466.1,451.6 1466.5,451.6 1466.9,451.7 1467.3,451.7 1467.7,451.8 1468.1,451.8 1468.5,451.9 1468.9,451.9 1469.3,451.9 1469.7,452.0 1470.1,452.0 1470.5,452.1 1470.9,452.1 1471.3,452.2 1471.7,452.2 1472.1,452.3 1472.5,452.3 1472.9,452.3 1473.3,452.4 1473.7,452.4 1474.1,452.5 1474.5,452.5 1474.9,452.6 1475.3,452.6 1475.7,452.7 1476.1,452.7 1476.5,452.7 1476.9,452.8 1477.3,452.8 1477.7,452.9 1478.1,452.9 1478.5,453.0 1478.9,453.0 1479.3,453.0 1479.7,453.1 1480.1,453.1 1480.5,453.2 1480.8,453.2M1504.3,455.6 1504.3,455.6 1504.7,455.7 1505.1,455.7 1505.5,455.7 1505.9,455.8 1506.3,455.8 1506.7,455.9 1507.1,455.9 1507.5,455.9 1507.9,456.0 1508.3,456.0 1508.7,456.1 1509.1,456.1 1509.5,456.1 1509.9,456.2 1510.3,456.2 1510.7,456.3 1511.1,456.3 1511.5,456.3 1511.9,456.4 1512.3,456.4 1512.7,456.4 1513.1,456.5 1513.5,456.5 1513.9,456.6 1514.3,456.6 1514.7,456.6 1515.1,456.7 1515.5,456.7 1515.9,456.7 1516.3,456.8 1516.7,456.8 1517.1,456.9 1517.5,456.9 1517.9,456.9 1518.3,457.0 1518.7,457.0 1519.1,457.0 1519.5,457.1 1519.9,457.1 1520.3,457.2 1520.7,457.2 1520.7,457.2M1544.3,459.2 1544.5,459.2 1544.9,459.2 1545.3,459.3 1545.7,459.3 1546.1,459.3 1546.5,459.4 1546.9,459.4 1547.3,459.4 1547.7,459.5 1548.1,459.5 1548.5,459.5 1548.9,459.6 1549.3,459.6 1549.7,459.6 1550.1,459.7 1550.5,459.7 1550.9,459.7 1551.3,459.7 1551.7,459.8 1552.1,459.8 1552.5,459.8 1552.9,459.9 1553.3,459.9 1553.7,459.9 1554.1,460.0 1554.5,460.0 1554.9,460.0 1555.3,460.0 1555.7,460.1 1556.1,460.1 1556.5,460.1 1556.9,460.2 1557.3,460.2 1557.7,460.2 1558.1,460.3 1558.5,460.3 1558.9,460.3 1559.3,460.3 1559.7,460.4 1560.1,460.4 1560.5,460.4 1560.8,460.5M1584.4,462.1 1584.5,462.1 1584.9,462.1 1585.3,462.2 1585.7,462.2 1586.1,462.2 1586.5,462.3 1586.9,462.3 1587.3,462.3 1587.7,462.3 1588.1,462.4 1588.5,462.4 1588.9,462.4 1589.3,462.4 1589.7,462.5 1590.1,462.5 1590.5,462.5 1590.9,462.5 1591.3,462.6 1591.7,462.6 1592.1,462.6 1592.5,462.7 1592.9,462.7 1593.3,462.7 1593.7,462.7 1594.1,462.8 1594.5,462.8 1594.9,462.8 1595.3,462.8 1595.7,462.9 1596.1,462.9 1596.5,462.9 1596.9,463.0 1597.3,463.0 1597.7,463.0 1598.1,463.0 1598.5,463.1 1598.9,463.1 1599.3,463.1 1599.7,463.1 1600.1,463.2 1600.5,463.2 1600.9,463.2 1600.9,463.2M1624.5,465.0 1624.6,465.0 1625.0,465.0 1625.4,465.1 1625.8,465.1 1626.2,465.2 1626.6,465.2 1627.0,465.2 1627.4,465.3 1627.8,465.3 1628.2,465.3 1628.6,465.4 1629.0,465.4 1629.4,465.4 1629.8,465.5 1630.2,465.5 1630.6,465.5 1631.0,465.6 1631.4,465.6 1631.8,465.7 1632.2,465.7 1632.6,465.7 1633.0,465.8 1633.4,465.8 1633.8,465.9 1634.2,465.9 1634.6,465.9 1635.0,466.0 1635.4,466.0 1635.8,466.0 1636.2,466.1 1636.6,466.1 1637.0,466.2 1637.5,466.2 1637.9,466.3 1638.4,466.3 1638.9,466.4 1639.3,466.4 1639.8,466.5 1640.2,466.5 1640.7,466.6 1640.9,466.6M986.1,361.0 986.2,361.0 986.6,361.2 987.0,361.3 987.4,361.5 987.8,361.6 988.2,361.8 988.6,362.0 989.0,362.1 989.4,362.3 989.8,362.4 990.2,362.6 990.6,362.7 991.0,362.9 991.4,363.0 991.8,363.2 992.2,363.3 992.6,363.5 993.0,363.6 993.4,363.8 993.8,363.9 994.2,364.1 994.6,364.2 995.0,364.4 995.4,364.5 995.8,364.6 995.9,364.7M1016.5,371.5 1016.5,371.5 1016.9,371.6 1017.3,371.8 1017.7,371.9 1018.1,372.0 1018.5,372.1 1018.9,372.2 1019.3,372.4 1019.7,372.5 1020.1,372.6 1020.5,372.7 1020.9,372.8 1021.3,373.0 1021.7,373.1 1022.1,373.2 1022.5,373.3 1022.9,373.4 1023.3,373.6 1023.7,373.7 1024.1,373.8 1024.5,373.9 1024.9,374.0 1025.3,374.1 1025.7,374.3 1026.1,374.4 1026.5,374.5 1026.9,374.6 1027.3,374.7 1027.7,374.8 1028.0,374.9M1038.0,377.7 1038.1,377.7 1038.5,377.8 1038.9,377.9 1039.3,378.0 1039.7,378.1 1040.1,378.3 1040.5,378.4 1040.9,378.5 1041.3,378.6 1041.7,378.7 1042.1,378.8 1042.5,378.9 1042.9,379.0 1043.3,379.1 1043.7,379.2 1044.1,379.3 1044.5,379.4 1044.9,379.5 1045.3,379.6 1045.7,379.7 1046.1,379.8 1046.5,379.9 1046.9,380.1 1047.3,380.2 1047.7,380.3 1048.1,380.4 1048.5,380.5 1048.9,380.6 1049.3,380.7 1049.6,380.8" fill="none" stroke="#ff0000" stroke-width="4.4" stroke-linecap="round" stroke-linejoin="round"/>
<path d="M970.0,387.2 C971.3,387.7 975.3,389.4 978.0,390.5 C980.7,391.5 983.3,392.5 986.0,393.4 C988.7,394.3 991.3,395.2 994.0,396.1 C996.7,396.9 999.3,397.7 1002.0,398.5 C1004.7,399.3 1007.3,400.1 1010.0,400.8 C1012.7,401.5 1015.3,402.2 1018.0,402.9 C1020.7,403.5 1023.3,404.2 1026.0,404.8 C1028.7,405.4 1031.3,406.0 1034.0,406.6 C1036.7,407.2 1039.3,407.8 1042.0,408.3 C1044.7,408.9 1047.3,409.4 1050.0,410.0 C1052.7,410.5 1055.3,411.0 1058.0,411.5 C1060.7,412.0 1063.3,412.5 1066.0,413.0 C1068.7,413.5 1071.3,414.0 1074.0,414.5 C1076.7,415.0 1079.3,415.4 1082.0,415.9 C1084.7,416.4 1087.3,416.8 1090.0,417.3 C1092.7,417.7 1095.3,418.2 1098.0,418.6 C1100.7,419.1 1103.3,419.5 1106.0,419.9 C1108.7,420.4 1111.3,420.8 1114.0,421.3 C1116.7,421.7 1119.3,422.1 1122.0,422.5 C1124.7,423.0 1127.3,423.4 1130.0,423.8 C1132.7,424.2 1135.3,424.7 1138.0,425.1 C1140.7,425.5 1143.3,425.9 1146.0,426.3 C1148.7,426.7 1151.3,427.1 1154.0,427.5 C1156.7,427.9 1159.3,428.3 1162.0,428.7 C1164.7,429.1 1167.3,429.5 1170.0,429.9 C1172.7,430.3 1175.3,430.7 1178.0,431.1 C1180.7,431.5 1183.3,431.9 1186.0,432.2 C1188.7,432.6 1191.3,433.0 1194.0,433.4 C1196.7,433.7 1199.3,434.1 1202.0,434.5 C1204.7,434.8 1207.3,435.2 1210.0,435.6 C1212.7,435.9 1215.3,436.3 1218.0,436.6 C1220.7,437.0 1223.3,437.3 1226.0,437.6 C1228.7,438.0 1231.3,438.3 1234.0,438.7 C1236.7,439.0 1239.3,439.3 1242.0,439.7 C1244.7,440.0 1247.3,440.3 1250.0,440.6 C1252.7,440.9 1255.3,441.3 1258.0,441.6 C1260.7,441.9 1263.3,442.2 1266.0,442.5 C1268.7,442.8 1271.3,443.1 1274.0,443.4 C1276.7,443.7 1279.3,444.0 1282.0,444.3 C1284.7,444.5 1287.3,444.8 1290.0,445.1 C1292.7,445.4 1295.3,445.7 1298.0,445.9 C1300.7,446.2 1303.3,446.5 1306.0,446.8 C1308.7,447.0 1311.3,447.3 1314.0,447.6 C1316.7,447.8 1319.3,448.1 1322.0,448.3 C1324.7,448.6 1327.3,448.8 1330.0,449.1 C1332.7,449.3 1335.3,449.6 1338.0,449.8 C1340.7,450.1 1343.3,450.3 1346.0,450.6 C1348.7,450.8 1351.3,451.1 1354.0,451.3 C1356.7,451.5 1359.3,451.8 1362.0,452.0 C1364.7,452.2 1367.3,452.5 1370.0,452.7 C1372.7,452.9 1375.3,453.2 1378.0,453.4 C1380.7,453.6 1383.3,453.9 1386.0,454.1 C1388.7,454.3 1391.3,454.6 1394.0,454.8 C1396.7,455.0 1399.3,455.2 1402.0,455.5 C1404.7,455.7 1407.3,455.9 1410.0,456.1 C1412.7,456.4 1415.3,456.6 1418.0,456.8 C1420.7,457.1 1423.3,457.3 1426.0,457.5 C1428.7,457.7 1431.3,457.9 1434.0,458.2 C1436.7,458.4 1439.3,458.6 1442.0,458.8 C1444.7,459.0 1447.3,459.3 1450.0,459.5 C1452.7,459.7 1455.3,459.9 1458.0,460.1 C1460.7,460.4 1463.3,460.6 1466.0,460.8 C1468.7,461.0 1471.3,461.2 1474.0,461.4 C1476.7,461.7 1479.3,461.9 1482.0,462.1 C1484.7,462.3 1487.3,462.5 1490.0,462.7 C1492.7,462.9 1495.3,463.1 1498.0,463.3 C1500.7,463.5 1503.3,463.7 1506.0,463.9 C1508.7,464.1 1511.3,464.3 1514.0,464.5 C1516.7,464.7 1519.3,464.9 1522.0,465.1 C1524.7,465.3 1527.3,465.5 1530.0,465.6 C1532.7,465.8 1535.3,466.0 1538.0,466.2 C1540.7,466.4 1543.3,466.5 1546.0,466.7 C1548.7,466.9 1551.3,467.0 1554.0,467.2 C1556.7,467.4 1559.3,467.5 1562.0,467.7 C1564.7,467.8 1567.3,468.0 1570.0,468.1 C1572.7,468.3 1575.3,468.4 1578.0,468.6 C1580.7,468.7 1583.3,468.8 1586.0,469.0 C1588.7,469.1 1591.3,469.3 1594.0,469.4 C1596.7,469.5 1599.3,469.7 1602.0,469.8 C1604.7,469.9 1607.3,470.0 1610.0,470.2 C1612.7,470.3 1615.3,470.4 1618.0,470.6 C1620.7,470.7 1623.3,470.8 1626.0,470.9 C1628.7,471.1 1631.3,471.2 1634.0,471.4 C1636.7,471.5 1640.7,471.7 1642.0,471.8" fill="none" stroke="#000" stroke-width="4.4" stroke-linecap="round" stroke-linejoin="round"/>

</g>
<path d="M117.4,51.0 H781.9 V587.1 H117.4 Z" fill="none" stroke="#000" stroke-width="3.5" stroke-linejoin="miter" stroke-linecap="square"/>
<path d="M150.6,587.1 V576.7 M233.7,587.1 V580.6 M316.8,587.1 V576.7 M399.8,587.1 V580.6 M482.9,587.1 V576.7 M565.9,587.1 V580.6 M649.0,587.1 V576.7 M732.1,587.1 V580.6 M117.4,533.5 H123.9 M117.4,479.9 H127.8 M117.4,426.3 H123.9 M117.4,372.7 H127.8 M117.4,319.1 H123.9 M117.4,265.4 H127.8 M117.4,211.8 H123.9 M117.4,158.2 H127.8 M117.4,104.6 H123.9 " stroke="#000" stroke-width="3.3"/>
<path d="M972.2,44.3 H1641.5 V583.8 H972.2 Z" fill="none" stroke="#000" stroke-width="3.5" stroke-linejoin="miter" stroke-linecap="square"/>
<path d="M1033.0,583.8 V573.4 M1093.9,583.8 V577.3 M1154.7,583.8 V573.4 M1215.6,583.8 V577.3 M1276.4,583.8 V573.4 M1337.3,583.8 V577.3 M1398.1,583.8 V573.4 M1459.0,583.8 V577.3 M1519.8,583.8 V573.4 M1580.7,583.8 V577.3 M1641.5,583.8 V573.4 M972.2,529.8 H978.7 M972.2,475.9 H982.6 M972.2,421.9 H978.7 M972.2,368.0 H982.6 M972.2,314.0 H978.7 M972.2,260.1 H982.6 M972.2,206.2 H978.7 M972.2,152.2 H982.6 M972.2,98.2 H978.7 " stroke="#000" stroke-width="3.3"/>
<path d="M497.4,439.7 H558.8" fill="none" stroke="#000" stroke-width="4.4" stroke-linecap="round"/>
<path d="M497.4,477.5 H558.8" fill="none" stroke="#ff0000" stroke-width="4.4" stroke-linecap="round" stroke-dasharray="16.5 23.5" stroke-dashoffset="0"/>
<path d="M497.4,515.3 H558.8" fill="none" stroke="#1366d9" stroke-width="4.4" stroke-linecap="round" stroke-dasharray="2.1 21.9" stroke-dashoffset="0"/>
<path d="M497.4,553.1 H558.8" fill="none" stroke="#a56cd7" stroke-width="4.4" stroke-linecap="round" stroke-dasharray="13.8 14.4 2.0 14.4 2.0 14.4" stroke-dashoffset="0"/>
<path d="M1437.4,67.1 H1499.1" fill="none" stroke="#000" stroke-width="4.4" stroke-linecap="round"/>
<path d="M1437.4,105.0 H1499.1" fill="none" stroke="#ff0000" stroke-width="4.4" stroke-linecap="round" stroke-dasharray="16.5 23.5" stroke-dashoffset="0"/>
<path d="M1437.4,142.9 H1499.1" fill="none" stroke="#1366d9" stroke-width="4.4" stroke-linecap="round" stroke-dasharray="2.1 21.9" stroke-dashoffset="0"/>
<path d="M1437.4,180.8 H1499.1" fill="none" stroke="#32aa69" stroke-width="4.4" stroke-linecap="round" stroke-dasharray="19.9 14.4 1.7 14.4" stroke-dashoffset="0"/>
<path d="M1437.4,218.7 H1499.1" fill="none" stroke="#a56cd7" stroke-width="4.4" stroke-linecap="round" stroke-dasharray="13.8 14.4 2.0 14.4 2.0 14.4" stroke-dashoffset="0"/>
<path d="M1437.4,256.6 H1499.1" fill="none" stroke="#c99302" stroke-width="4.0" stroke-linecap="round" stroke-dasharray="5.6 12.45" stroke-dashoffset="0"/>

<g fill="#000">
<text x="0.1" y="35.5" style="font-family:'Liberation Sans',Arial,sans-serif;font-weight:bold;font-size:42px" text-anchor="start">(a)</text>
<text x="833.0" y="33.7" style="font-family:'Liberation Sans',Arial,sans-serif;font-weight:bold;font-size:42px" text-anchor="start">(b)</text>
<text x="106.6" y="596.2" style="font-family:'Liberation Serif','Times New Roman',serif;font-weight:bold;font-size:31px" text-anchor="end">0.0</text>
<text x="106.6" y="489.0" style="font-family:'Liberation Serif','Times New Roman',serif;font-weight:bold;font-size:31px" text-anchor="end">0.2</text>
<text x="106.6" y="381.8" style="font-family:'Liberation Serif','Times New Roman',serif;font-weight:bold;font-size:31px" text-anchor="end">0.4</text>
<text x="106.6" y="274.5" style="font-family:'Liberation Serif','Times New Roman',serif;font-weight:bold;font-size:31px" text-anchor="end">0.6</text>
<text x="106.6" y="167.3" style="font-family:'Liberation Serif','Times New Roman',serif;font-weight:bold;font-size:31px" text-anchor="end">0.8</text>
<text x="106.6" y="60.1" style="font-family:'Liberation Serif','Times New Roman',serif;font-weight:bold;font-size:31px" text-anchor="end">1.0</text>
<text x="150.6" y="622.0" style="font-family:'Liberation Serif','Times New Roman',serif;font-weight:bold;font-size:31px" text-anchor="middle">400</text>
<text x="316.8" y="622.0" style="font-family:'Liberation Serif','Times New Roman',serif;font-weight:bold;font-size:31px" text-anchor="middle">500</text>
<text x="482.9" y="622.0" style="font-family:'Liberation Serif','Times New Roman',serif;font-weight:bold;font-size:31px" text-anchor="middle">600</text>
<text x="649.0" y="622.0" style="font-family:'Liberation Serif','Times New Roman',serif;font-weight:bold;font-size:31px" text-anchor="middle">700</text>
<text x="960.8" y="592.9" style="font-family:'Liberation Serif','Times New Roman',serif;font-weight:bold;font-size:31px" text-anchor="end">0.02</text>
<text x="960.8" y="485.0" style="font-family:'Liberation Serif','Times New Roman',serif;font-weight:bold;font-size:31px" text-anchor="end">0.04</text>
<text x="960.8" y="377.1" style="font-family:'Liberation Serif','Times New Roman',serif;font-weight:bold;font-size:31px" text-anchor="end">0.06</text>
<text x="960.8" y="269.2" style="font-family:'Liberation Serif','Times New Roman',serif;font-weight:bold;font-size:31px" text-anchor="end">0.08</text>
<text x="960.8" y="161.3" style="font-family:'Liberation Serif','Times New Roman',serif;font-weight:bold;font-size:31px" text-anchor="end">0.10</text>
<text x="960.8" y="53.4" style="font-family:'Liberation Serif','Times New Roman',serif;font-weight:bold;font-size:31px" text-anchor="end">0.12</text>
<text x="1033.0" y="618.6" style="font-family:'Liberation Serif','Times New Roman',serif;font-weight:bold;font-size:31px" text-anchor="middle">4</text>
<text x="1154.7" y="618.6" style="font-family:'Liberation Serif','Times New Roman',serif;font-weight:bold;font-size:31px" text-anchor="middle">6</text>
<text x="1276.4" y="618.6" style="font-family:'Liberation Serif','Times New Roman',serif;font-weight:bold;font-size:31px" text-anchor="middle">8</text>
<text x="1398.1" y="618.6" style="font-family:'Liberation Serif','Times New Roman',serif;font-weight:bold;font-size:31px" text-anchor="middle">10</text>
<text x="1519.8" y="618.6" style="font-family:'Liberation Serif','Times New Roman',serif;font-weight:bold;font-size:31px" text-anchor="middle">12</text>
<text x="1641.5" y="618.6" style="font-family:'Liberation Serif','Times New Roman',serif;font-weight:bold;font-size:31px" text-anchor="middle">14</text>
<text x="281.2" y="675.3" style="font-family:'Liberation Serif','Times New Roman',serif;font-weight:bold;font-size:46px" text-anchor="start">Wavelength (nm)</text>
<text x="1138.9" y="673.0" style="font-family:'Liberation Serif','Times New Roman',serif;font-weight:bold;font-size:46px" text-anchor="start">Wavelength (μm)</text>
<text transform="translate(49.9,460.4) rotate(-90)" style="font-family:'Liberation Serif','Times New Roman',serif;font-weight:bold;font-size:46px">Transmittance</text>
<text transform="translate(889.0,415.2) rotate(-90)" style="font-family:'Liberation Serif','Times New Roman',serif;font-weight:bold;font-size:46px">Emissivity</text>
<text x="566.7" y="449.1" style="font-family:'Liberation Serif','Times New Roman',serif;font-weight:bold;font-size:30.5px" text-anchor="start">Model I</text>
<text x="566.7" y="486.9" style="font-family:'Liberation Serif','Times New Roman',serif;font-weight:bold;font-size:30.5px" text-anchor="start">Model III</text>
<text x="566.7" y="524.7" style="font-family:'Liberation Serif','Times New Roman',serif;font-weight:bold;font-size:30.5px" text-anchor="start">Model III &amp; IV</text>
<text x="566.7" y="562.5" style="font-family:'Liberation Serif','Times New Roman',serif;font-weight:bold;font-size:30.5px" text-anchor="start">Model V &amp; VI</text>
<text x="1507.1" y="77.0" style="font-family:'Liberation Serif','Times New Roman',serif;font-weight:bold;font-size:30.5px" text-anchor="start">Model I</text>
<text x="1507.1" y="114.9" style="font-family:'Liberation Serif','Times New Roman',serif;font-weight:bold;font-size:30.5px" text-anchor="start">Model II</text>
<text x="1507.1" y="152.8" style="font-family:'Liberation Serif','Times New Roman',serif;font-weight:bold;font-size:30.5px" text-anchor="start">Model III</text>
<text x="1507.1" y="190.7" style="font-family:'Liberation Serif','Times New Roman',serif;font-weight:bold;font-size:30.5px" text-anchor="start">Model IV</text>
<text x="1507.1" y="228.6" style="font-family:'Liberation Serif','Times New Roman',serif;font-weight:bold;font-size:30.5px" text-anchor="start">Model V</text>
<text x="1507.1" y="266.5" style="font-family:'Liberation Serif','Times New Roman',serif;font-weight:bold;font-size:30.5px" text-anchor="start">Model VI</text>

</g>
</svg>
</body></html>
